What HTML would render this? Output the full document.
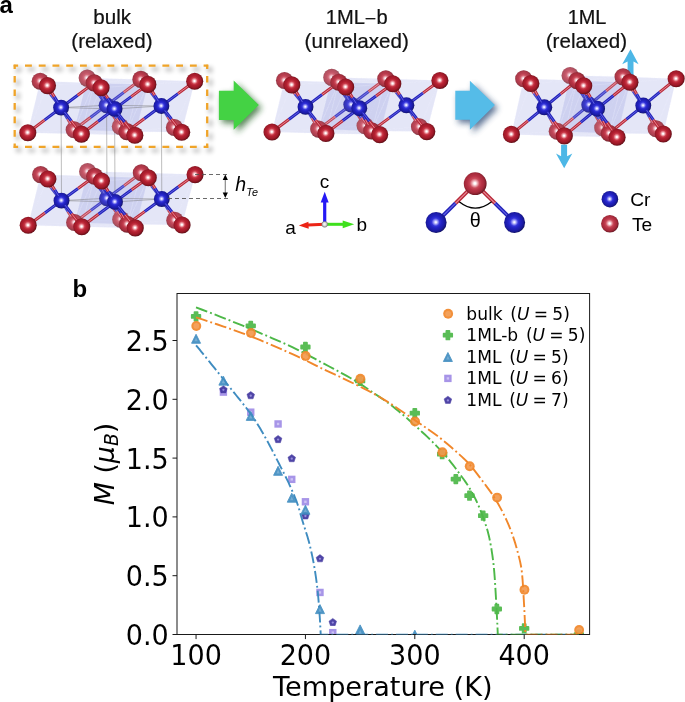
<!DOCTYPE html>
<html><head><meta charset="utf-8"><title>figure</title>
<style>html,body{margin:0;padding:0;background:#fff}svg{display:block}</style></head>
<body><svg width="685" height="702" viewBox="0 0 685 702">
<rect width="685" height="702" fill="#fff"/>
<defs>
<radialGradient id="gTe" cx="0.46" cy="0.46" r="0.56" fx="0.49" fy="0.49">
<stop offset="0" stop-color="#fff"/><stop offset="0.06" stop-color="#fff"/><stop offset="0.18" stop-color="#f0a6ad"/><stop offset="0.34" stop-color="#c93a49"/><stop offset="0.5" stop-color="#b42031"/><stop offset="0.72" stop-color="#a01a29"/><stop offset="0.87" stop-color="#7e131e"/><stop offset="1" stop-color="#520a12"/>
</radialGradient>
<radialGradient id="gCr" cx="0.46" cy="0.46" r="0.56" fx="0.49" fy="0.49">
<stop offset="0" stop-color="#fbfbff"/><stop offset="0.06" stop-color="#ececff"/><stop offset="0.18" stop-color="#9a9af6"/><stop offset="0.34" stop-color="#3434da"/><stop offset="0.5" stop-color="#2323c4"/><stop offset="0.72" stop-color="#1c1caa"/><stop offset="0.87" stop-color="#17178a"/><stop offset="1" stop-color="#0d0d52"/>
</radialGradient>
<radialGradient id="gTeL" cx="0.46" cy="0.46" r="0.56" fx="0.49" fy="0.49">
<stop offset="0" stop-color="#fff"/><stop offset="0.07" stop-color="#fff"/><stop offset="0.2" stop-color="#efb0b8"/><stop offset="0.38" stop-color="#c94a5a"/><stop offset="0.55" stop-color="#b83346"/><stop offset="0.75" stop-color="#a62a3b"/><stop offset="0.88" stop-color="#86202e"/><stop offset="1" stop-color="#5c141e"/>
</radialGradient>
<radialGradient id="gO" cx="0.5" cy="0.5" r="0.5" fx="0.45" fy="0.45">
<stop offset="0" stop-color="#fff"/><stop offset="0.5" stop-color="#ddd"/><stop offset="1" stop-color="#777"/>
</radialGradient>
<filter id="blur3" x="-30%" y="-30%" width="160%" height="160%"><feGaussianBlur stdDeviation="2.6"/></filter>
<filter id="blur2" x="-40%" y="-40%" width="180%" height="180%"><feGaussianBlur stdDeviation="3.3"/></filter>
</defs>
<g fill="none" stroke="#000" stroke-width="2.6" opacity="0.42" transform="translate(3.2,3.4)" filter="url(#blur3)"><path d="M13.7,65.7H208.2M13.7,146.9H208.2" stroke-dasharray="6.87 6.87" stroke-dashoffset="2.44"/><path d="M14.7,64.7V147.9M207.2,64.7V147.9" stroke-dasharray="6.7 6.83" stroke-dashoffset="2.35"/></g>
<g stroke="#f4f4ff" stroke-opacity="0.26" stroke-width="0.5" stroke-linejoin="round" fill="#757cdc" fill-opacity="0.1">
<polygon points="40.6,174.6 47.9,178.9 94.6,176.3"/>
<polygon points="40.6,174.6 47.9,178.9 28.2,225.3"/>
<polygon points="40.6,174.6 74.6,222.5 94.6,176.3"/>
<polygon points="40.6,174.6 74.6,222.5 28.2,225.3"/>
<polygon points="81.8,226.7 47.9,178.9 94.6,176.3"/>
<polygon points="81.8,226.7 47.9,178.9 28.2,225.3"/>
<polygon points="81.8,226.7 74.6,222.5 94.6,176.3"/>
<polygon points="81.8,226.7 74.6,222.5 28.2,225.3"/>
<polygon points="87.6,171.5 94.6,176.3 141.3,172.8"/>
<polygon points="87.6,171.5 94.6,176.3 74.6,222.5"/>
<polygon points="87.6,171.5 120.7,219.2 141.3,172.8"/>
<polygon points="87.6,171.5 120.7,219.2 74.6,222.5"/>
<polygon points="127.3,224.2 94.6,176.3 141.3,172.8"/>
<polygon points="127.3,224.2 94.6,176.3 74.6,222.5"/>
<polygon points="127.3,224.2 120.7,219.2 141.3,172.8"/>
<polygon points="127.3,224.2 120.7,219.2 74.6,222.5"/>
<polygon points="94.6,176.3 101.5,181.0 148.3,177.7"/>
<polygon points="94.6,176.3 101.5,181.0 81.8,226.7"/>
<polygon points="94.6,176.3 127.3,224.2 148.3,177.7"/>
<polygon points="94.6,176.3 127.3,224.2 81.8,226.7"/>
<polygon points="135.3,227.9 101.5,181.0 148.3,177.7"/>
<polygon points="135.3,227.9 101.5,181.0 81.8,226.7"/>
<polygon points="135.3,227.9 127.3,224.2 148.3,177.7"/>
<polygon points="135.3,227.9 127.3,224.2 81.8,226.7"/>
<polygon points="141.3,172.8 148.3,177.7 195.1,174.6"/>
<polygon points="141.3,172.8 148.3,177.7 127.3,224.2"/>
<polygon points="141.3,172.8 174.8,220.2 195.1,174.6"/>
<polygon points="141.3,172.8 174.8,220.2 127.3,224.2"/>
<polygon points="182.1,224.9 148.3,177.7 195.1,174.6"/>
<polygon points="182.1,224.9 148.3,177.7 127.3,224.2"/>
<polygon points="182.1,224.9 174.8,220.2 195.1,174.6"/>
<polygon points="182.1,224.9 174.8,220.2 127.3,224.2"/>
</g>
<g stroke="#f4f4ff" stroke-opacity="0.26" stroke-width="0.5" stroke-linejoin="round" fill="#757cdc" fill-opacity="0.1">
<polygon points="40.2,81.2 47.5,85.6 94.2,82.9"/>
<polygon points="40.2,81.2 47.5,85.6 27.8,132.7"/>
<polygon points="40.2,81.2 74.2,129.8 94.2,82.9"/>
<polygon points="40.2,81.2 74.2,129.8 27.8,132.7"/>
<polygon points="81.4,134.1 47.5,85.6 94.2,82.9"/>
<polygon points="81.4,134.1 47.5,85.6 27.8,132.7"/>
<polygon points="81.4,134.1 74.2,129.8 94.2,82.9"/>
<polygon points="81.4,134.1 74.2,129.8 27.8,132.7"/>
<polygon points="87.2,78.1 94.2,82.9 140.9,79.4"/>
<polygon points="87.2,78.1 94.2,82.9 74.2,129.8"/>
<polygon points="87.2,78.1 120.3,126.5 140.9,79.4"/>
<polygon points="87.2,78.1 120.3,126.5 74.2,129.8"/>
<polygon points="126.9,131.6 94.2,82.9 140.9,79.4"/>
<polygon points="126.9,131.6 94.2,82.9 74.2,129.8"/>
<polygon points="126.9,131.6 120.3,126.5 140.9,79.4"/>
<polygon points="126.9,131.6 120.3,126.5 74.2,129.8"/>
<polygon points="94.2,82.9 101.1,87.7 147.9,84.4"/>
<polygon points="94.2,82.9 101.1,87.7 81.4,134.1"/>
<polygon points="94.2,82.9 126.9,131.6 147.9,84.4"/>
<polygon points="94.2,82.9 126.9,131.6 81.4,134.1"/>
<polygon points="134.9,135.3 101.1,87.7 147.9,84.4"/>
<polygon points="134.9,135.3 101.1,87.7 81.4,134.1"/>
<polygon points="134.9,135.3 126.9,131.6 147.9,84.4"/>
<polygon points="134.9,135.3 126.9,131.6 81.4,134.1"/>
<polygon points="140.9,79.4 147.9,84.4 194.7,81.2"/>
<polygon points="140.9,79.4 147.9,84.4 126.9,131.6"/>
<polygon points="140.9,79.4 174.4,127.5 194.7,81.2"/>
<polygon points="140.9,79.4 174.4,127.5 126.9,131.6"/>
<polygon points="181.7,132.3 147.9,84.4 194.7,81.2"/>
<polygon points="181.7,132.3 147.9,84.4 126.9,131.6"/>
<polygon points="181.7,132.3 174.4,127.5 194.7,81.2"/>
<polygon points="181.7,132.3 174.4,127.5 126.9,131.6"/>
</g>
<path d="M61.1,107.6L61.5,200.6 M106.6,105.3L107.0,198.3 M114.6,108.9L115.0,201.9 M161.4,106.0L161.8,199.0 M61.1,107.6 L106.6,105.3 L161.4,106.0 L114.6,108.9z M61.5,200.6 L107.0,198.3 L161.8,199.0 L115.0,201.9z" fill="none" stroke="#777" stroke-width="0.6" opacity="0.8"/>
<circle cx="87.64" cy="171.54" r="8.55" fill="url(#gTe)"/><circle cx="87.64" cy="171.54" r="8.75" fill="#e6e2f6" fill-opacity="0.28"/>
<circle cx="120.74" cy="219.22" r="8.55" fill="url(#gTe)"/><circle cx="120.74" cy="219.22" r="8.75" fill="#e6e2f6" fill-opacity="0.28"/>
<path d="M103.76,193.83L97.33,184.94" stroke="#2222b8" stroke-width="3.0"/><path d="M97.33,184.94L91.65,177.08" stroke="#b82838" stroke-width="3.0"/><path d="M103.76,193.83L97.33,184.94" stroke="#6464e6" stroke-width="0.90"/><path d="M97.33,184.94L91.65,177.08" stroke="#ea8e9a" stroke-width="0.90"/><path d="M103.76,193.83L91.65,177.08" stroke="#e4e2f8" stroke-opacity="0.18" stroke-width="3.3"/>
<path d="M111.49,195.01L124.17,185.58" stroke="#2222b8" stroke-width="3.0"/><path d="M124.17,185.58L141.32,172.82" stroke="#b82838" stroke-width="3.0"/><path d="M111.49,195.01L124.17,185.58" stroke="#6464e6" stroke-width="0.90"/><path d="M124.17,185.58L141.32,172.82" stroke="#ea8e9a" stroke-width="0.90"/><path d="M111.49,195.01L141.32,172.82" stroke="#e4e2f8" stroke-opacity="0.18" stroke-width="3.3"/>
<path d="M110.08,202.99L113.88,208.78" stroke="#2222b8" stroke-width="3.0"/><path d="M113.88,208.78L116.99,213.50" stroke="#b82838" stroke-width="3.0"/><path d="M110.08,202.99L113.88,208.78" stroke="#6464e6" stroke-width="0.90"/><path d="M113.88,208.78L116.99,213.50" stroke="#ea8e9a" stroke-width="0.90"/><path d="M110.08,202.99L116.99,213.50" stroke="#e4e2f8" stroke-opacity="0.18" stroke-width="3.3"/>
<path d="M102.56,201.66L90.82,210.40" stroke="#2222b8" stroke-width="3.0"/><path d="M90.82,210.40L74.62,222.47" stroke="#b82838" stroke-width="3.0"/><path d="M102.56,201.66L90.82,210.40" stroke="#6464e6" stroke-width="0.90"/><path d="M90.82,210.40L74.62,222.47" stroke="#ea8e9a" stroke-width="0.90"/><path d="M102.56,201.66L74.62,222.47" stroke="#e4e2f8" stroke-opacity="0.18" stroke-width="3.3"/>
<circle cx="107.02" cy="198.33" r="7.95" fill="url(#gCr)"/><circle cx="107.02" cy="198.33" r="8.15" fill="#dcdcf8" fill-opacity="0.12"/>
<circle cx="40.62" cy="174.60" r="8.55" fill="url(#gTe)"/><circle cx="40.62" cy="174.60" r="8.75" fill="#e6e2f6" fill-opacity="0.17"/>
<circle cx="141.32" cy="172.82" r="8.55" fill="url(#gTe)"/><circle cx="141.32" cy="172.82" r="8.75" fill="#e6e2f6" fill-opacity="0.14"/>
<circle cx="74.62" cy="222.47" r="8.55" fill="url(#gTe)"/><circle cx="74.62" cy="222.47" r="8.75" fill="#e6e2f6" fill-opacity="0.2"/>
<circle cx="174.81" cy="220.20" r="8.55" fill="url(#gTe)"/><circle cx="174.81" cy="220.20" r="8.75" fill="#e6e2f6" fill-opacity="0.2"/>
<path d="M58.02,196.26L51.06,187.60" stroke="#2222b8" stroke-width="3.0"/><path d="M51.06,187.60L44.91,179.93" stroke="#b82838" stroke-width="3.0"/><path d="M58.02,196.26L51.06,187.60" stroke="#6464e6" stroke-width="0.90"/><path d="M51.06,187.60L44.91,179.93" stroke="#ea8e9a" stroke-width="0.90"/><path d="M58.02,196.26L44.91,179.93" stroke="#e4e2f8" stroke-opacity="0.18" stroke-width="3.3"/>
<path d="M65.98,197.30L78.05,188.44" stroke="#2222b8" stroke-width="3.0"/><path d="M78.05,188.44L94.60,176.27" stroke="#b82838" stroke-width="3.0"/><path d="M65.98,197.30L78.05,188.44" stroke="#6464e6" stroke-width="0.90"/><path d="M78.05,188.44L94.60,176.27" stroke="#ea8e9a" stroke-width="0.90"/>
<path d="M64.36,205.37L68.06,211.53" stroke="#2222b8" stroke-width="3.0"/><path d="M68.06,211.53L71.10,216.60" stroke="#b82838" stroke-width="3.0"/><path d="M64.36,205.37L68.06,211.53" stroke="#6464e6" stroke-width="0.90"/><path d="M68.06,211.53L71.10,216.60" stroke="#ea8e9a" stroke-width="0.90"/><path d="M64.36,205.37L71.10,216.60" stroke="#e4e2f8" stroke-opacity="0.18" stroke-width="3.3"/>
<path d="M57.03,203.92L44.85,212.96" stroke="#2222b8" stroke-width="3.0"/><path d="M44.85,212.96L28.20,225.32" stroke="#b82838" stroke-width="3.0"/><path d="M57.03,203.92L44.85,212.96" stroke="#6464e6" stroke-width="0.90"/><path d="M44.85,212.96L28.20,225.32" stroke="#ea8e9a" stroke-width="0.90"/>
<path d="M104.29,193.49L100.81,187.30" stroke="#2222b8" stroke-width="3.0"/><path d="M100.81,187.30L94.60,176.27" stroke="#b82838" stroke-width="3.0"/><path d="M104.29,193.49L100.81,187.30" stroke="#6464e6" stroke-width="0.90"/><path d="M100.81,187.30L94.60,176.27" stroke="#ea8e9a" stroke-width="0.90"/><path d="M104.29,193.49L94.60,176.27" stroke="#e4e2f8" stroke-opacity="0.18" stroke-width="3.3"/>
<path d="M110.45,202.72L117.16,211.29" stroke="#2222b8" stroke-width="3.0"/><path d="M117.16,211.29L127.30,224.24" stroke="#b82838" stroke-width="3.0"/><path d="M110.45,202.72L117.16,211.29" stroke="#6464e6" stroke-width="0.90"/><path d="M117.16,211.29L127.30,224.24" stroke="#ea8e9a" stroke-width="0.90"/><path d="M110.45,202.72L127.30,224.24" stroke="#e4e2f8" stroke-opacity="0.18" stroke-width="3.3"/>
<path d="M158.37,194.64L151.56,185.92" stroke="#2222b8" stroke-width="3.0"/><path d="M151.56,185.92L145.53,178.21" stroke="#b82838" stroke-width="3.0"/><path d="M158.37,194.64L151.56,185.92" stroke="#6464e6" stroke-width="0.90"/><path d="M151.56,185.92L145.53,178.21" stroke="#ea8e9a" stroke-width="0.90"/><path d="M158.37,194.64L145.53,178.21" stroke="#e4e2f8" stroke-opacity="0.18" stroke-width="3.3"/>
<path d="M166.28,195.73L178.44,186.81" stroke="#2222b8" stroke-width="3.0"/><path d="M178.44,186.81L195.09,174.60" stroke="#b82838" stroke-width="3.0"/><path d="M166.28,195.73L178.44,186.81" stroke="#6464e6" stroke-width="0.90"/><path d="M178.44,186.81L195.09,174.60" stroke="#ea8e9a" stroke-width="0.90"/>
<path d="M164.71,203.76L168.30,209.61" stroke="#2222b8" stroke-width="3.0"/><path d="M168.30,209.61L171.23,214.37" stroke="#b82838" stroke-width="3.0"/><path d="M164.71,203.76L168.30,209.61" stroke="#6464e6" stroke-width="0.90"/><path d="M168.30,209.61L171.23,214.37" stroke="#ea8e9a" stroke-width="0.90"/><path d="M164.71,203.76L171.23,214.37" stroke="#e4e2f8" stroke-opacity="0.18" stroke-width="3.3"/>
<path d="M157.30,202.31L144.55,211.63" stroke="#2222b8" stroke-width="3.0"/><path d="M144.55,211.63L127.30,224.24" stroke="#b82838" stroke-width="3.0"/><path d="M157.30,202.31L144.55,211.63" stroke="#6464e6" stroke-width="0.90"/><path d="M144.55,211.63L127.30,224.24" stroke="#ea8e9a" stroke-width="0.90"/>
<circle cx="61.50" cy="200.60" r="7.95" fill="url(#gCr)"/>
<circle cx="161.79" cy="199.02" r="7.95" fill="url(#gCr)"/>
<circle cx="94.60" cy="176.27" r="8.55" fill="url(#gTe)"/><circle cx="94.60" cy="176.27" r="8.75" fill="#e6e2f6" fill-opacity="0.1"/>
<circle cx="195.09" cy="174.60" r="8.55" fill="url(#gTe)"/>
<circle cx="28.20" cy="225.32" r="8.55" fill="url(#gTe)"/>
<circle cx="127.30" cy="224.24" r="8.55" fill="url(#gTe)"/><circle cx="127.30" cy="224.24" r="8.75" fill="#e6e2f6" fill-opacity="0.1"/>
<path d="M58.54,195.89L54.69,189.76" stroke="#2222b8" stroke-width="3.0"/><path d="M54.69,189.76L47.88,178.93" stroke="#b82838" stroke-width="3.0"/><path d="M58.54,195.89L54.69,189.76" stroke="#6464e6" stroke-width="0.90"/><path d="M54.69,189.76L47.88,178.93" stroke="#ea8e9a" stroke-width="0.90"/>
<path d="M64.91,204.99L71.64,213.65" stroke="#2222b8" stroke-width="3.0"/><path d="M71.64,213.65L81.78,226.70" stroke="#b82838" stroke-width="3.0"/><path d="M64.91,204.99L71.64,213.65" stroke="#6464e6" stroke-width="0.90"/><path d="M71.64,213.65L81.78,226.70" stroke="#ea8e9a" stroke-width="0.90"/>
<path d="M111.51,197.53L104.79,189.08" stroke="#2222b8" stroke-width="3.0"/><path d="M104.79,189.08L98.86,181.62" stroke="#b82838" stroke-width="3.0"/><path d="M111.51,197.53L104.79,189.08" stroke="#6464e6" stroke-width="0.90"/><path d="M104.79,189.08L98.86,181.62" stroke="#ea8e9a" stroke-width="0.90"/>
<path d="M119.48,198.61L131.63,189.81" stroke="#2222b8" stroke-width="3.0"/><path d="M131.63,189.81L148.28,177.75" stroke="#b82838" stroke-width="3.0"/><path d="M119.48,198.61L131.63,189.81" stroke="#6464e6" stroke-width="0.90"/><path d="M131.63,189.81L148.28,177.75" stroke="#ea8e9a" stroke-width="0.90"/>
<path d="M117.66,206.75L121.14,213.06" stroke="#2222b8" stroke-width="3.0"/><path d="M121.14,213.06L124.00,218.25" stroke="#b82838" stroke-width="3.0"/><path d="M117.66,206.75L121.14,213.06" stroke="#6464e6" stroke-width="0.90"/><path d="M121.14,213.06L124.00,218.25" stroke="#ea8e9a" stroke-width="0.90"/>
<path d="M110.52,205.21L98.38,214.29" stroke="#2222b8" stroke-width="3.0"/><path d="M98.38,214.29L81.78,226.70" stroke="#b82838" stroke-width="3.0"/><path d="M110.52,205.21L98.38,214.29" stroke="#6464e6" stroke-width="0.90"/><path d="M98.38,214.29L81.78,226.70" stroke="#ea8e9a" stroke-width="0.90"/>
<path d="M158.81,194.33L155.03,188.39" stroke="#2222b8" stroke-width="3.0"/><path d="M155.03,188.39L148.28,177.75" stroke="#b82838" stroke-width="3.0"/><path d="M158.81,194.33L155.03,188.39" stroke="#6464e6" stroke-width="0.90"/><path d="M155.03,188.39L148.28,177.75" stroke="#ea8e9a" stroke-width="0.90"/>
<path d="M165.22,203.41L171.93,211.98" stroke="#2222b8" stroke-width="3.0"/><path d="M171.93,211.98L182.07,224.93" stroke="#b82838" stroke-width="3.0"/><path d="M165.22,203.41L171.93,211.98" stroke="#6464e6" stroke-width="0.90"/><path d="M171.93,211.98L182.07,224.93" stroke="#ea8e9a" stroke-width="0.90"/>
<circle cx="114.98" cy="201.88" r="7.95" fill="url(#gCr)"/>
<circle cx="47.88" cy="178.93" r="8.55" fill="url(#gTe)"/>
<circle cx="148.28" cy="177.75" r="8.55" fill="url(#gTe)"/>
<circle cx="81.78" cy="226.70" r="8.55" fill="url(#gTe)"/>
<circle cx="182.07" cy="224.93" r="8.55" fill="url(#gTe)"/>
<path d="M111.95,197.21L108.22,191.44" stroke="#2222b8" stroke-width="3.0"/><path d="M108.22,191.44L101.46,181.00" stroke="#b82838" stroke-width="3.0"/><path d="M111.95,197.21L108.22,191.44" stroke="#6464e6" stroke-width="0.90"/><path d="M108.22,191.44L101.46,181.00" stroke="#ea8e9a" stroke-width="0.90"/>
<path d="M118.40,206.27L125.12,214.88" stroke="#2222b8" stroke-width="3.0"/><path d="M125.12,214.88L135.25,227.88" stroke="#b82838" stroke-width="3.0"/><path d="M118.40,206.27L125.12,214.88" stroke="#6464e6" stroke-width="0.90"/><path d="M125.12,214.88L135.25,227.88" stroke="#ea8e9a" stroke-width="0.90"/>
<circle cx="101.46" cy="181.00" r="8.55" fill="url(#gTe)"/>
<circle cx="135.25" cy="227.88" r="8.55" fill="url(#gTe)"/>
<circle cx="87.24" cy="78.10" r="8.55" fill="url(#gTe)"/><circle cx="87.24" cy="78.10" r="8.75" fill="#e6e2f6" fill-opacity="0.28"/>
<circle cx="120.34" cy="126.50" r="8.55" fill="url(#gTe)"/><circle cx="120.34" cy="126.50" r="8.75" fill="#e6e2f6" fill-opacity="0.28"/>
<path d="M103.39,100.77L96.93,91.70" stroke="#2222b8" stroke-width="3.0"/><path d="M96.93,91.70L91.21,83.67" stroke="#b82838" stroke-width="3.0"/><path d="M103.39,100.77L96.93,91.70" stroke="#6464e6" stroke-width="0.90"/><path d="M96.93,91.70L91.21,83.67" stroke="#ea8e9a" stroke-width="0.90"/><path d="M103.39,100.77L91.21,83.67" stroke="#e4e2f8" stroke-opacity="0.18" stroke-width="3.3"/>
<path d="M111.06,101.95L123.77,92.35" stroke="#2222b8" stroke-width="3.0"/><path d="M123.77,92.35L140.92,79.40" stroke="#b82838" stroke-width="3.0"/><path d="M111.06,101.95L123.77,92.35" stroke="#6464e6" stroke-width="0.90"/><path d="M123.77,92.35L140.92,79.40" stroke="#ea8e9a" stroke-width="0.90"/><path d="M111.06,101.95L140.92,79.40" stroke="#e4e2f8" stroke-opacity="0.18" stroke-width="3.3"/>
<path d="M109.65,109.97L113.48,115.90" stroke="#2222b8" stroke-width="3.0"/><path d="M113.48,115.90L116.63,120.76" stroke="#b82838" stroke-width="3.0"/><path d="M109.65,109.97L113.48,115.90" stroke="#6464e6" stroke-width="0.90"/><path d="M113.48,115.90L116.63,120.76" stroke="#ea8e9a" stroke-width="0.90"/><path d="M109.65,109.97L116.63,120.76" stroke="#e4e2f8" stroke-opacity="0.18" stroke-width="3.3"/>
<path d="M102.19,108.66L90.42,117.55" stroke="#2222b8" stroke-width="3.0"/><path d="M90.42,117.55L74.22,129.80" stroke="#b82838" stroke-width="3.0"/><path d="M102.19,108.66L90.42,117.55" stroke="#6464e6" stroke-width="0.90"/><path d="M90.42,117.55L74.22,129.80" stroke="#ea8e9a" stroke-width="0.90"/><path d="M102.19,108.66L74.22,129.80" stroke="#e4e2f8" stroke-opacity="0.18" stroke-width="3.3"/>
<circle cx="106.62" cy="105.30" r="7.95" fill="url(#gCr)"/><circle cx="106.62" cy="105.30" r="8.15" fill="#dcdcf8" fill-opacity="0.12"/>
<circle cx="40.23" cy="81.20" r="8.55" fill="url(#gTe)"/><circle cx="40.23" cy="81.20" r="8.75" fill="#e6e2f6" fill-opacity="0.17"/>
<circle cx="140.92" cy="79.40" r="8.55" fill="url(#gTe)"/><circle cx="140.92" cy="79.40" r="8.75" fill="#e6e2f6" fill-opacity="0.14"/>
<circle cx="74.22" cy="129.80" r="8.55" fill="url(#gTe)"/><circle cx="74.22" cy="129.80" r="8.75" fill="#e6e2f6" fill-opacity="0.2"/>
<circle cx="174.42" cy="127.50" r="8.55" fill="url(#gTe)"/><circle cx="174.42" cy="127.50" r="8.75" fill="#e6e2f6" fill-opacity="0.2"/>
<path d="M57.65,103.23L50.66,94.40" stroke="#2222b8" stroke-width="3.0"/><path d="M50.66,94.40L44.47,86.57" stroke="#b82838" stroke-width="3.0"/><path d="M57.65,103.23L50.66,94.40" stroke="#6464e6" stroke-width="0.90"/><path d="M50.66,94.40L44.47,86.57" stroke="#ea8e9a" stroke-width="0.90"/><path d="M57.65,103.23L44.47,86.57" stroke="#e4e2f8" stroke-opacity="0.18" stroke-width="3.3"/>
<path d="M65.56,104.27L77.65,95.25" stroke="#2222b8" stroke-width="3.0"/><path d="M77.65,95.25L94.20,82.90" stroke="#b82838" stroke-width="3.0"/><path d="M65.56,104.27L77.65,95.25" stroke="#6464e6" stroke-width="0.90"/><path d="M77.65,95.25L94.20,82.90" stroke="#ea8e9a" stroke-width="0.90"/>
<path d="M63.93,112.39L67.66,118.70" stroke="#2222b8" stroke-width="3.0"/><path d="M67.66,118.70L70.74,123.91" stroke="#b82838" stroke-width="3.0"/><path d="M63.93,112.39L67.66,118.70" stroke="#6464e6" stroke-width="0.90"/><path d="M67.66,118.70L70.74,123.91" stroke="#ea8e9a" stroke-width="0.90"/><path d="M63.93,112.39L70.74,123.91" stroke="#e4e2f8" stroke-opacity="0.18" stroke-width="3.3"/>
<path d="M56.66,110.95L44.45,120.15" stroke="#2222b8" stroke-width="3.0"/><path d="M44.45,120.15L27.80,132.70" stroke="#b82838" stroke-width="3.0"/><path d="M56.66,110.95L44.45,120.15" stroke="#6464e6" stroke-width="0.90"/><path d="M44.45,120.15L27.80,132.70" stroke="#ea8e9a" stroke-width="0.90"/>
<path d="M103.92,100.43L100.41,94.10" stroke="#2222b8" stroke-width="3.0"/><path d="M100.41,94.10L94.20,82.90" stroke="#b82838" stroke-width="3.0"/><path d="M103.92,100.43L100.41,94.10" stroke="#6464e6" stroke-width="0.90"/><path d="M100.41,94.10L94.20,82.90" stroke="#ea8e9a" stroke-width="0.90"/><path d="M103.92,100.43L94.20,82.90" stroke="#e4e2f8" stroke-opacity="0.18" stroke-width="3.3"/>
<path d="M110.02,109.71L116.76,118.45" stroke="#2222b8" stroke-width="3.0"/><path d="M116.76,118.45L126.90,131.60" stroke="#b82838" stroke-width="3.0"/><path d="M110.02,109.71L116.76,118.45" stroke="#6464e6" stroke-width="0.90"/><path d="M116.76,118.45L126.90,131.60" stroke="#ea8e9a" stroke-width="0.90"/><path d="M110.02,109.71L126.90,131.60" stroke="#e4e2f8" stroke-opacity="0.18" stroke-width="3.3"/>
<path d="M158.00,101.59L151.16,92.70" stroke="#2222b8" stroke-width="3.0"/><path d="M151.16,92.70L145.09,84.82" stroke="#b82838" stroke-width="3.0"/><path d="M158.00,101.59L151.16,92.70" stroke="#6464e6" stroke-width="0.90"/><path d="M151.16,92.70L145.09,84.82" stroke="#ea8e9a" stroke-width="0.90"/><path d="M158.00,101.59L145.09,84.82" stroke="#e4e2f8" stroke-opacity="0.18" stroke-width="3.3"/>
<path d="M165.86,102.68L178.04,93.60" stroke="#2222b8" stroke-width="3.0"/><path d="M178.04,93.60L194.69,81.20" stroke="#b82838" stroke-width="3.0"/><path d="M165.86,102.68L178.04,93.60" stroke="#6464e6" stroke-width="0.90"/><path d="M178.04,93.60L194.69,81.20" stroke="#ea8e9a" stroke-width="0.90"/>
<path d="M164.28,110.76L167.90,116.75" stroke="#2222b8" stroke-width="3.0"/><path d="M167.90,116.75L170.87,121.65" stroke="#b82838" stroke-width="3.0"/><path d="M164.28,110.76L167.90,116.75" stroke="#6464e6" stroke-width="0.90"/><path d="M167.90,116.75L170.87,121.65" stroke="#ea8e9a" stroke-width="0.90"/><path d="M164.28,110.76L170.87,121.65" stroke="#e4e2f8" stroke-opacity="0.18" stroke-width="3.3"/>
<path d="M156.92,109.32L144.15,118.80" stroke="#2222b8" stroke-width="3.0"/><path d="M144.15,118.80L126.90,131.60" stroke="#b82838" stroke-width="3.0"/><path d="M156.92,109.32L144.15,118.80" stroke="#6464e6" stroke-width="0.90"/><path d="M144.15,118.80L126.90,131.60" stroke="#ea8e9a" stroke-width="0.90"/>
<circle cx="61.10" cy="107.60" r="7.95" fill="url(#gCr)"/>
<circle cx="161.39" cy="106.00" r="7.95" fill="url(#gCr)"/>
<circle cx="94.20" cy="82.90" r="8.55" fill="url(#gTe)"/><circle cx="94.20" cy="82.90" r="8.75" fill="#e6e2f6" fill-opacity="0.1"/>
<circle cx="194.69" cy="81.20" r="8.55" fill="url(#gTe)"/>
<circle cx="27.80" cy="132.70" r="8.55" fill="url(#gTe)"/>
<circle cx="126.90" cy="131.60" r="8.55" fill="url(#gTe)"/><circle cx="126.90" cy="131.60" r="8.75" fill="#e6e2f6" fill-opacity="0.1"/>
<path d="M58.17,102.87L54.29,96.60" stroke="#2222b8" stroke-width="3.0"/><path d="M54.29,96.60L47.48,85.60" stroke="#b82838" stroke-width="3.0"/><path d="M58.17,102.87L54.29,96.60" stroke="#6464e6" stroke-width="0.90"/><path d="M54.29,96.60L47.48,85.60" stroke="#ea8e9a" stroke-width="0.90"/>
<path d="M64.48,112.02L71.24,120.85" stroke="#2222b8" stroke-width="3.0"/><path d="M71.24,120.85L81.38,134.10" stroke="#b82838" stroke-width="3.0"/><path d="M64.48,112.02L71.24,120.85" stroke="#6464e6" stroke-width="0.90"/><path d="M71.24,120.85L81.38,134.10" stroke="#ea8e9a" stroke-width="0.90"/>
<path d="M111.14,104.52L104.39,95.90" stroke="#2222b8" stroke-width="3.0"/><path d="M104.39,95.90L98.42,88.28" stroke="#b82838" stroke-width="3.0"/><path d="M111.14,104.52L104.39,95.90" stroke="#6464e6" stroke-width="0.90"/><path d="M104.39,95.90L98.42,88.28" stroke="#ea8e9a" stroke-width="0.90"/>
<path d="M119.06,105.60L131.23,96.65" stroke="#2222b8" stroke-width="3.0"/><path d="M131.23,96.65L147.88,84.40" stroke="#b82838" stroke-width="3.0"/><path d="M119.06,105.60L131.23,96.65" stroke="#6464e6" stroke-width="0.90"/><path d="M131.23,96.65L147.88,84.40" stroke="#ea8e9a" stroke-width="0.90"/>
<path d="M117.23,113.79L120.74,120.25" stroke="#2222b8" stroke-width="3.0"/><path d="M120.74,120.25L123.64,125.59" stroke="#b82838" stroke-width="3.0"/><path d="M117.23,113.79L120.74,120.25" stroke="#6464e6" stroke-width="0.90"/><path d="M120.74,120.25L123.64,125.59" stroke="#ea8e9a" stroke-width="0.90"/>
<path d="M110.14,112.26L97.98,121.50" stroke="#2222b8" stroke-width="3.0"/><path d="M97.98,121.50L81.38,134.10" stroke="#b82838" stroke-width="3.0"/><path d="M110.14,112.26L97.98,121.50" stroke="#6464e6" stroke-width="0.90"/><path d="M97.98,121.50L81.38,134.10" stroke="#ea8e9a" stroke-width="0.90"/>
<path d="M158.44,101.28L154.63,95.20" stroke="#2222b8" stroke-width="3.0"/><path d="M154.63,95.20L147.88,84.40" stroke="#b82838" stroke-width="3.0"/><path d="M158.44,101.28L154.63,95.20" stroke="#6464e6" stroke-width="0.90"/><path d="M154.63,95.20L147.88,84.40" stroke="#ea8e9a" stroke-width="0.90"/>
<path d="M164.79,110.41L171.53,119.15" stroke="#2222b8" stroke-width="3.0"/><path d="M171.53,119.15L181.67,132.30" stroke="#b82838" stroke-width="3.0"/><path d="M164.79,110.41L171.53,119.15" stroke="#6464e6" stroke-width="0.90"/><path d="M171.53,119.15L181.67,132.30" stroke="#ea8e9a" stroke-width="0.90"/>
<circle cx="114.58" cy="108.90" r="7.95" fill="url(#gCr)"/>
<circle cx="47.48" cy="85.60" r="8.55" fill="url(#gTe)"/>
<circle cx="147.88" cy="84.40" r="8.55" fill="url(#gTe)"/>
<circle cx="81.38" cy="134.10" r="8.55" fill="url(#gTe)"/>
<circle cx="181.67" cy="132.30" r="8.55" fill="url(#gTe)"/>
<path d="M111.58,104.21L107.82,98.30" stroke="#2222b8" stroke-width="3.0"/><path d="M107.82,98.30L101.06,87.70" stroke="#b82838" stroke-width="3.0"/><path d="M111.58,104.21L107.82,98.30" stroke="#6464e6" stroke-width="0.90"/><path d="M107.82,98.30L101.06,87.70" stroke="#ea8e9a" stroke-width="0.90"/>
<path d="M117.97,113.31L124.72,122.10" stroke="#2222b8" stroke-width="3.0"/><path d="M124.72,122.10L134.85,135.30" stroke="#b82838" stroke-width="3.0"/><path d="M117.97,113.31L124.72,122.10" stroke="#6464e6" stroke-width="0.90"/><path d="M124.72,122.10L134.85,135.30" stroke="#ea8e9a" stroke-width="0.90"/>
<circle cx="101.06" cy="87.70" r="8.55" fill="url(#gTe)"/>
<circle cx="134.85" cy="135.30" r="8.55" fill="url(#gTe)"/>
<g fill="none" stroke="#f0a428" stroke-width="2.3"><path d="M13.7,65.7H208.2M13.7,146.9H208.2" stroke-dasharray="6.87 6.87" stroke-dashoffset="2.44"/><path d="M14.7,64.7V147.9M207.2,64.7V147.9" stroke-dasharray="6.7 6.83" stroke-dashoffset="2.35"/></g>
<g stroke="#f4f4ff" stroke-opacity="0.26" stroke-width="0.5" stroke-linejoin="round" fill="#757cdc" fill-opacity="0.1">
<polygon points="284.5,80.5 291.8,84.9 338.8,82.2"/>
<polygon points="284.5,80.5 291.8,84.9 272.0,132.0"/>
<polygon points="284.5,80.5 318.7,129.1 338.8,82.2"/>
<polygon points="284.5,80.5 318.7,129.1 272.0,132.0"/>
<polygon points="325.9,133.4 291.8,84.9 338.8,82.2"/>
<polygon points="325.9,133.4 291.8,84.9 272.0,132.0"/>
<polygon points="325.9,133.4 318.7,129.1 338.8,82.2"/>
<polygon points="325.9,133.4 318.7,129.1 272.0,132.0"/>
<polygon points="331.8,77.4 338.8,82.2 385.8,78.7"/>
<polygon points="331.8,77.4 338.8,82.2 318.7,129.1"/>
<polygon points="331.8,77.4 365.1,125.8 385.8,78.7"/>
<polygon points="331.8,77.4 365.1,125.8 318.7,129.1"/>
<polygon points="371.7,130.9 338.8,82.2 385.8,78.7"/>
<polygon points="371.7,130.9 338.8,82.2 318.7,129.1"/>
<polygon points="371.7,130.9 365.1,125.8 385.8,78.7"/>
<polygon points="371.7,130.9 365.1,125.8 318.7,129.1"/>
<polygon points="338.8,82.2 345.7,87.0 392.8,83.7"/>
<polygon points="338.8,82.2 345.7,87.0 325.9,133.4"/>
<polygon points="338.8,82.2 371.7,130.9 392.8,83.7"/>
<polygon points="338.8,82.2 371.7,130.9 325.9,133.4"/>
<polygon points="379.7,134.6 345.7,87.0 392.8,83.7"/>
<polygon points="379.7,134.6 345.7,87.0 325.9,133.4"/>
<polygon points="379.7,134.6 371.7,130.9 392.8,83.7"/>
<polygon points="379.7,134.6 371.7,130.9 325.9,133.4"/>
<polygon points="385.8,78.7 392.8,83.7 439.9,80.5"/>
<polygon points="385.8,78.7 392.8,83.7 371.7,130.9"/>
<polygon points="385.8,78.7 419.5,126.8 439.9,80.5"/>
<polygon points="385.8,78.7 419.5,126.8 371.7,130.9"/>
<polygon points="426.8,131.6 392.8,83.7 439.9,80.5"/>
<polygon points="426.8,131.6 392.8,83.7 371.7,130.9"/>
<polygon points="426.8,131.6 419.5,126.8 439.9,80.5"/>
<polygon points="426.8,131.6 419.5,126.8 371.7,130.9"/>
</g>
<circle cx="331.80" cy="77.40" r="8.55" fill="url(#gTe)"/><circle cx="331.80" cy="77.40" r="8.75" fill="#e6e2f6" fill-opacity="0.28"/>
<circle cx="365.10" cy="125.80" r="8.55" fill="url(#gTe)"/><circle cx="365.10" cy="125.80" r="8.75" fill="#e6e2f6" fill-opacity="0.28"/>
<path d="M348.06,100.08L341.55,91.00" stroke="#2222b8" stroke-width="3.0"/><path d="M341.55,91.00L335.79,82.96" stroke="#b82838" stroke-width="3.0"/><path d="M348.06,100.08L341.55,91.00" stroke="#6464e6" stroke-width="0.90"/><path d="M341.55,91.00L335.79,82.96" stroke="#ea8e9a" stroke-width="0.90"/><path d="M348.06,100.08L335.79,82.96" stroke="#e4e2f8" stroke-opacity="0.18" stroke-width="3.3"/>
<path d="M355.75,101.26L368.55,91.65" stroke="#2222b8" stroke-width="3.0"/><path d="M368.55,91.65L385.80,78.70" stroke="#b82838" stroke-width="3.0"/><path d="M355.75,101.26L368.55,91.65" stroke="#6464e6" stroke-width="0.90"/><path d="M368.55,91.65L385.80,78.70" stroke="#ea8e9a" stroke-width="0.90"/><path d="M355.75,101.26L385.80,78.70" stroke="#e4e2f8" stroke-opacity="0.18" stroke-width="3.3"/>
<path d="M354.34,109.26L358.20,115.20" stroke="#2222b8" stroke-width="3.0"/><path d="M358.20,115.20L361.37,120.07" stroke="#b82838" stroke-width="3.0"/><path d="M354.34,109.26L358.20,115.20" stroke="#6464e6" stroke-width="0.90"/><path d="M358.20,115.20L361.37,120.07" stroke="#ea8e9a" stroke-width="0.90"/><path d="M354.34,109.26L361.37,120.07" stroke="#e4e2f8" stroke-opacity="0.18" stroke-width="3.3"/>
<path d="M346.85,107.94L335.00,116.85" stroke="#2222b8" stroke-width="3.0"/><path d="M335.00,116.85L318.70,129.10" stroke="#b82838" stroke-width="3.0"/><path d="M346.85,107.94L335.00,116.85" stroke="#6464e6" stroke-width="0.90"/><path d="M335.00,116.85L318.70,129.10" stroke="#ea8e9a" stroke-width="0.90"/><path d="M346.85,107.94L318.70,129.10" stroke="#e4e2f8" stroke-opacity="0.18" stroke-width="3.3"/>
<circle cx="351.30" cy="104.60" r="7.95" fill="url(#gCr)"/><circle cx="351.30" cy="104.60" r="8.15" fill="#dcdcf8" fill-opacity="0.12"/>
<circle cx="284.50" cy="80.50" r="8.55" fill="url(#gTe)"/><circle cx="284.50" cy="80.50" r="8.75" fill="#e6e2f6" fill-opacity="0.17"/>
<circle cx="385.80" cy="78.70" r="8.55" fill="url(#gTe)"/><circle cx="385.80" cy="78.70" r="8.75" fill="#e6e2f6" fill-opacity="0.14"/>
<circle cx="318.70" cy="129.10" r="8.55" fill="url(#gTe)"/><circle cx="318.70" cy="129.10" r="8.75" fill="#e6e2f6" fill-opacity="0.2"/>
<circle cx="419.50" cy="126.80" r="8.55" fill="url(#gTe)"/><circle cx="419.50" cy="126.80" r="8.75" fill="#e6e2f6" fill-opacity="0.2"/>
<path d="M302.04,102.54L295.00,93.70" stroke="#2222b8" stroke-width="3.0"/><path d="M295.00,93.70L288.76,85.85" stroke="#b82838" stroke-width="3.0"/><path d="M302.04,102.54L295.00,93.70" stroke="#6464e6" stroke-width="0.90"/><path d="M295.00,93.70L288.76,85.85" stroke="#ea8e9a" stroke-width="0.90"/><path d="M302.04,102.54L288.76,85.85" stroke="#e4e2f8" stroke-opacity="0.18" stroke-width="3.3"/>
<path d="M309.97,103.58L322.15,94.55" stroke="#2222b8" stroke-width="3.0"/><path d="M322.15,94.55L338.80,82.20" stroke="#b82838" stroke-width="3.0"/><path d="M309.97,103.58L322.15,94.55" stroke="#6464e6" stroke-width="0.90"/><path d="M322.15,94.55L338.80,82.20" stroke="#ea8e9a" stroke-width="0.90"/>
<path d="M308.34,111.68L312.10,118.00" stroke="#2222b8" stroke-width="3.0"/><path d="M312.10,118.00L315.20,123.22" stroke="#b82838" stroke-width="3.0"/><path d="M308.34,111.68L312.10,118.00" stroke="#6464e6" stroke-width="0.90"/><path d="M312.10,118.00L315.20,123.22" stroke="#ea8e9a" stroke-width="0.90"/><path d="M308.34,111.68L315.20,123.22" stroke="#e4e2f8" stroke-opacity="0.18" stroke-width="3.3"/>
<path d="M301.05,110.24L288.75,119.45" stroke="#2222b8" stroke-width="3.0"/><path d="M288.75,119.45L272.00,132.00" stroke="#b82838" stroke-width="3.0"/><path d="M301.05,110.24L288.75,119.45" stroke="#6464e6" stroke-width="0.90"/><path d="M288.75,119.45L272.00,132.00" stroke="#ea8e9a" stroke-width="0.90"/>
<path d="M348.59,99.74L345.05,93.40" stroke="#2222b8" stroke-width="3.0"/><path d="M345.05,93.40L338.80,82.20" stroke="#b82838" stroke-width="3.0"/><path d="M348.59,99.74L345.05,93.40" stroke="#6464e6" stroke-width="0.90"/><path d="M345.05,93.40L338.80,82.20" stroke="#ea8e9a" stroke-width="0.90"/><path d="M348.59,99.74L338.80,82.20" stroke="#e4e2f8" stroke-opacity="0.18" stroke-width="3.3"/>
<path d="M354.71,109.00L361.50,117.75" stroke="#2222b8" stroke-width="3.0"/><path d="M361.50,117.75L371.70,130.90" stroke="#b82838" stroke-width="3.0"/><path d="M354.71,109.00L361.50,117.75" stroke="#6464e6" stroke-width="0.90"/><path d="M361.50,117.75L371.70,130.90" stroke="#ea8e9a" stroke-width="0.90"/><path d="M354.71,109.00L371.70,130.90" stroke="#e4e2f8" stroke-opacity="0.18" stroke-width="3.3"/>
<path d="M402.99,100.90L396.10,92.00" stroke="#2222b8" stroke-width="3.0"/><path d="M396.10,92.00L389.99,84.11" stroke="#b82838" stroke-width="3.0"/><path d="M402.99,100.90L396.10,92.00" stroke="#6464e6" stroke-width="0.90"/><path d="M396.10,92.00L389.99,84.11" stroke="#ea8e9a" stroke-width="0.90"/><path d="M402.99,100.90L389.99,84.11" stroke="#e4e2f8" stroke-opacity="0.18" stroke-width="3.3"/>
<path d="M410.87,101.99L423.15,92.90" stroke="#2222b8" stroke-width="3.0"/><path d="M423.15,92.90L439.90,80.50" stroke="#b82838" stroke-width="3.0"/><path d="M410.87,101.99L423.15,92.90" stroke="#6464e6" stroke-width="0.90"/><path d="M423.15,92.90L439.90,80.50" stroke="#ea8e9a" stroke-width="0.90"/>
<path d="M409.30,110.05L412.95,116.05" stroke="#2222b8" stroke-width="3.0"/><path d="M412.95,116.05L415.94,120.96" stroke="#b82838" stroke-width="3.0"/><path d="M409.30,110.05L412.95,116.05" stroke="#6464e6" stroke-width="0.90"/><path d="M412.95,116.05L415.94,120.96" stroke="#ea8e9a" stroke-width="0.90"/><path d="M409.30,110.05L415.94,120.96" stroke="#e4e2f8" stroke-opacity="0.18" stroke-width="3.3"/>
<path d="M401.92,108.60L389.05,118.10" stroke="#2222b8" stroke-width="3.0"/><path d="M389.05,118.10L371.70,130.90" stroke="#b82838" stroke-width="3.0"/><path d="M401.92,108.60L389.05,118.10" stroke="#6464e6" stroke-width="0.90"/><path d="M389.05,118.10L371.70,130.90" stroke="#ea8e9a" stroke-width="0.90"/>
<circle cx="305.50" cy="106.90" r="7.95" fill="url(#gCr)"/>
<circle cx="406.40" cy="105.30" r="7.95" fill="url(#gCr)"/>
<circle cx="338.80" cy="82.20" r="8.55" fill="url(#gTe)"/><circle cx="338.80" cy="82.20" r="8.75" fill="#e6e2f6" fill-opacity="0.1"/>
<circle cx="439.90" cy="80.50" r="8.55" fill="url(#gTe)"/>
<circle cx="272.00" cy="132.00" r="8.55" fill="url(#gTe)"/>
<circle cx="371.70" cy="130.90" r="8.55" fill="url(#gTe)"/><circle cx="371.70" cy="130.90" r="8.75" fill="#e6e2f6" fill-opacity="0.1"/>
<path d="M302.56,102.18L298.65,95.90" stroke="#2222b8" stroke-width="3.0"/><path d="M298.65,95.90L291.80,84.90" stroke="#b82838" stroke-width="3.0"/><path d="M302.56,102.18L298.65,95.90" stroke="#6464e6" stroke-width="0.90"/><path d="M298.65,95.90L291.80,84.90" stroke="#ea8e9a" stroke-width="0.90"/>
<path d="M308.89,111.31L315.70,120.15" stroke="#2222b8" stroke-width="3.0"/><path d="M315.70,120.15L325.90,133.40" stroke="#b82838" stroke-width="3.0"/><path d="M308.89,111.31L315.70,120.15" stroke="#6464e6" stroke-width="0.90"/><path d="M315.70,120.15L325.90,133.40" stroke="#ea8e9a" stroke-width="0.90"/>
<path d="M355.85,103.83L349.05,95.20" stroke="#2222b8" stroke-width="3.0"/><path d="M349.05,95.20L343.04,87.57" stroke="#b82838" stroke-width="3.0"/><path d="M355.85,103.83L349.05,95.20" stroke="#6464e6" stroke-width="0.90"/><path d="M349.05,95.20L343.04,87.57" stroke="#ea8e9a" stroke-width="0.90"/>
<path d="M363.79,104.91L376.05,95.95" stroke="#2222b8" stroke-width="3.0"/><path d="M376.05,95.95L392.80,83.70" stroke="#b82838" stroke-width="3.0"/><path d="M363.79,104.91L376.05,95.95" stroke="#6464e6" stroke-width="0.90"/><path d="M376.05,95.95L392.80,83.70" stroke="#ea8e9a" stroke-width="0.90"/>
<path d="M361.97,113.08L365.50,119.55" stroke="#2222b8" stroke-width="3.0"/><path d="M365.50,119.55L368.42,124.90" stroke="#b82838" stroke-width="3.0"/><path d="M361.97,113.08L365.50,119.55" stroke="#6464e6" stroke-width="0.90"/><path d="M365.50,119.55L368.42,124.90" stroke="#ea8e9a" stroke-width="0.90"/>
<path d="M354.86,111.55L342.60,120.80" stroke="#2222b8" stroke-width="3.0"/><path d="M342.60,120.80L325.90,133.40" stroke="#b82838" stroke-width="3.0"/><path d="M354.86,111.55L342.60,120.80" stroke="#6464e6" stroke-width="0.90"/><path d="M342.60,120.80L325.90,133.40" stroke="#ea8e9a" stroke-width="0.90"/>
<path d="M403.43,100.59L399.60,94.50" stroke="#2222b8" stroke-width="3.0"/><path d="M399.60,94.50L392.80,83.70" stroke="#b82838" stroke-width="3.0"/><path d="M403.43,100.59L399.60,94.50" stroke="#6464e6" stroke-width="0.90"/><path d="M399.60,94.50L392.80,83.70" stroke="#ea8e9a" stroke-width="0.90"/>
<path d="M409.81,109.70L416.60,118.45" stroke="#2222b8" stroke-width="3.0"/><path d="M416.60,118.45L426.80,131.60" stroke="#b82838" stroke-width="3.0"/><path d="M409.81,109.70L416.60,118.45" stroke="#6464e6" stroke-width="0.90"/><path d="M416.60,118.45L426.80,131.60" stroke="#ea8e9a" stroke-width="0.90"/>
<circle cx="359.30" cy="108.20" r="7.95" fill="url(#gCr)"/>
<circle cx="291.80" cy="84.90" r="8.55" fill="url(#gTe)"/>
<circle cx="392.80" cy="83.70" r="8.55" fill="url(#gTe)"/>
<circle cx="325.90" cy="133.40" r="8.55" fill="url(#gTe)"/>
<circle cx="426.80" cy="131.60" r="8.55" fill="url(#gTe)"/>
<path d="M356.30,103.52L352.50,97.60" stroke="#2222b8" stroke-width="3.0"/><path d="M352.50,97.60L345.70,87.00" stroke="#b82838" stroke-width="3.0"/><path d="M356.30,103.52L352.50,97.60" stroke="#6464e6" stroke-width="0.90"/><path d="M352.50,97.60L345.70,87.00" stroke="#ea8e9a" stroke-width="0.90"/>
<path d="M362.70,112.60L369.50,121.40" stroke="#2222b8" stroke-width="3.0"/><path d="M369.50,121.40L379.70,134.60" stroke="#b82838" stroke-width="3.0"/><path d="M362.70,112.60L369.50,121.40" stroke="#6464e6" stroke-width="0.90"/><path d="M369.50,121.40L379.70,134.60" stroke="#ea8e9a" stroke-width="0.90"/>
<circle cx="345.70" cy="87.00" r="8.55" fill="url(#gTe)"/>
<circle cx="379.70" cy="134.60" r="8.55" fill="url(#gTe)"/>
<path d="M627.6,76V61.6L622.2,64.3L630.5,49.2L638.6,64.3L633.5,61.6V76z" fill="#4db7e6"/>
<g stroke="#f4f4ff" stroke-opacity="0.26" stroke-width="0.5" stroke-linejoin="round" fill="#757cdc" fill-opacity="0.1">
<polygon points="523.7,78.8 530.9,83.5 577.0,80.6"/>
<polygon points="523.7,78.8 530.9,83.5 511.4,134.4"/>
<polygon points="523.7,78.8 557.2,131.3 577.0,80.6"/>
<polygon points="523.7,78.8 557.2,131.3 511.4,134.4"/>
<polygon points="564.3,135.9 530.9,83.5 577.0,80.6"/>
<polygon points="564.3,135.9 530.9,83.5 511.4,134.4"/>
<polygon points="564.3,135.9 557.2,131.3 577.0,80.6"/>
<polygon points="564.3,135.9 557.2,131.3 511.4,134.4"/>
<polygon points="570.1,75.4 577.0,80.6 623.1,76.8"/>
<polygon points="570.1,75.4 577.0,80.6 557.2,131.3"/>
<polygon points="570.1,75.4 602.8,127.7 623.1,76.8"/>
<polygon points="570.1,75.4 602.8,127.7 557.2,131.3"/>
<polygon points="609.2,133.2 577.0,80.6 623.1,76.8"/>
<polygon points="609.2,133.2 577.0,80.6 557.2,131.3"/>
<polygon points="609.2,133.2 602.8,127.7 623.1,76.8"/>
<polygon points="609.2,133.2 602.8,127.7 557.2,131.3"/>
<polygon points="577.0,80.6 583.7,85.8 629.9,82.2"/>
<polygon points="577.0,80.6 583.7,85.8 564.3,135.9"/>
<polygon points="577.0,80.6 609.2,133.2 629.9,82.2"/>
<polygon points="577.0,80.6 609.2,133.2 564.3,135.9"/>
<polygon points="617.1,137.2 583.7,85.8 629.9,82.2"/>
<polygon points="617.1,137.2 583.7,85.8 564.3,135.9"/>
<polygon points="617.1,137.2 609.2,133.2 629.9,82.2"/>
<polygon points="617.1,137.2 609.2,133.2 564.3,135.9"/>
<polygon points="623.1,76.8 629.9,82.2 676.1,78.8"/>
<polygon points="623.1,76.8 629.9,82.2 609.2,133.2"/>
<polygon points="623.1,76.8 656.1,128.8 676.1,78.8"/>
<polygon points="623.1,76.8 656.1,128.8 609.2,133.2"/>
<polygon points="663.3,134.0 629.9,82.2 676.1,78.8"/>
<polygon points="663.3,134.0 629.9,82.2 609.2,133.2"/>
<polygon points="663.3,134.0 656.1,128.8 676.1,78.8"/>
<polygon points="663.3,134.0 656.1,128.8 609.2,133.2"/>
</g>
<circle cx="570.10" cy="75.44" r="8.55" fill="url(#gTe)"/><circle cx="570.10" cy="75.44" r="8.75" fill="#e6e2f6" fill-opacity="0.28"/>
<circle cx="602.77" cy="127.71" r="8.55" fill="url(#gTe)"/><circle cx="602.77" cy="127.71" r="8.75" fill="#e6e2f6" fill-opacity="0.28"/>
<path d="M586.19,100.15L579.67,90.13" stroke="#2222b8" stroke-width="3.0"/><path d="M579.67,90.13L573.83,81.17" stroke="#b82838" stroke-width="3.0"/><path d="M586.19,100.15L579.67,90.13" stroke="#6464e6" stroke-width="0.90"/><path d="M579.67,90.13L573.83,81.17" stroke="#ea8e9a" stroke-width="0.90"/><path d="M586.19,100.15L573.83,81.17" stroke="#e4e2f8" stroke-opacity="0.18" stroke-width="3.3"/>
<path d="M593.52,101.27L606.15,90.83" stroke="#2222b8" stroke-width="3.0"/><path d="M606.15,90.83L623.07,76.84" stroke="#b82838" stroke-width="3.0"/><path d="M593.52,101.27L606.15,90.83" stroke="#6464e6" stroke-width="0.90"/><path d="M606.15,90.83L623.07,76.84" stroke="#ea8e9a" stroke-width="0.90"/><path d="M593.52,101.27L623.07,76.84" stroke="#e4e2f8" stroke-opacity="0.18" stroke-width="3.3"/>
<path d="M592.06,109.61L596.00,116.26" stroke="#2222b8" stroke-width="3.0"/><path d="M596.00,116.26L599.29,121.82" stroke="#b82838" stroke-width="3.0"/><path d="M592.06,109.61L596.00,116.26" stroke="#6464e6" stroke-width="0.90"/><path d="M596.00,116.26L599.29,121.82" stroke="#ea8e9a" stroke-width="0.90"/><path d="M592.06,109.61L599.29,121.82" stroke="#e4e2f8" stroke-opacity="0.18" stroke-width="3.3"/>
<path d="M584.94,108.36L573.24,118.05" stroke="#2222b8" stroke-width="3.0"/><path d="M573.24,118.05L557.25,131.28" stroke="#b82838" stroke-width="3.0"/><path d="M584.94,108.36L573.24,118.05" stroke="#6464e6" stroke-width="0.90"/><path d="M573.24,118.05L557.25,131.28" stroke="#ea8e9a" stroke-width="0.90"/><path d="M584.94,108.36L557.25,131.28" stroke="#e4e2f8" stroke-opacity="0.18" stroke-width="3.3"/>
<circle cx="589.23" cy="104.82" r="7.95" fill="url(#gCr)"/><circle cx="589.23" cy="104.82" r="8.15" fill="#dcdcf8" fill-opacity="0.12"/>
<circle cx="523.70" cy="78.79" r="8.55" fill="url(#gTe)"/><circle cx="523.70" cy="78.79" r="8.75" fill="#e6e2f6" fill-opacity="0.17"/>
<circle cx="623.07" cy="76.84" r="8.55" fill="url(#gTe)"/><circle cx="623.07" cy="76.84" r="8.75" fill="#e6e2f6" fill-opacity="0.14"/>
<circle cx="557.25" cy="131.28" r="8.55" fill="url(#gTe)"/><circle cx="557.25" cy="131.28" r="8.75" fill="#e6e2f6" fill-opacity="0.2"/>
<circle cx="656.13" cy="128.79" r="8.55" fill="url(#gTe)"/><circle cx="656.13" cy="128.79" r="8.75" fill="#e6e2f6" fill-opacity="0.2"/>
<path d="M541.04,102.79L534.00,93.04" stroke="#2222b8" stroke-width="3.0"/><path d="M534.00,93.04L527.70,84.33" stroke="#b82838" stroke-width="3.0"/><path d="M541.04,102.79L534.00,93.04" stroke="#6464e6" stroke-width="0.90"/><path d="M534.00,93.04L527.70,84.33" stroke="#ea8e9a" stroke-width="0.90"/><path d="M541.04,102.79L527.70,84.33" stroke="#e4e2f8" stroke-opacity="0.18" stroke-width="3.3"/>
<path d="M548.61,103.78L560.63,93.96" stroke="#2222b8" stroke-width="3.0"/><path d="M560.63,93.96L576.97,80.62" stroke="#b82838" stroke-width="3.0"/><path d="M548.61,103.78L560.63,93.96" stroke="#6464e6" stroke-width="0.90"/><path d="M560.63,93.96L576.97,80.62" stroke="#ea8e9a" stroke-width="0.90"/>
<path d="M546.94,112.20L550.77,119.29" stroke="#2222b8" stroke-width="3.0"/><path d="M550.77,119.29L554.00,125.26" stroke="#b82838" stroke-width="3.0"/><path d="M546.94,112.20L550.77,119.29" stroke="#6464e6" stroke-width="0.90"/><path d="M550.77,119.29L554.00,125.26" stroke="#ea8e9a" stroke-width="0.90"/><path d="M546.94,112.20L554.00,125.26" stroke="#e4e2f8" stroke-opacity="0.18" stroke-width="3.3"/>
<path d="M540.01,110.84L527.87,120.85" stroke="#2222b8" stroke-width="3.0"/><path d="M527.87,120.85L511.44,134.41" stroke="#b82838" stroke-width="3.0"/><path d="M540.01,110.84L527.87,120.85" stroke="#6464e6" stroke-width="0.90"/><path d="M527.87,120.85L511.44,134.41" stroke="#ea8e9a" stroke-width="0.90"/>
<path d="M586.71,99.85L583.10,92.72" stroke="#2222b8" stroke-width="3.0"/><path d="M583.10,92.72L576.97,80.62" stroke="#b82838" stroke-width="3.0"/><path d="M586.71,99.85L583.10,92.72" stroke="#6464e6" stroke-width="0.90"/><path d="M583.10,92.72L576.97,80.62" stroke="#ea8e9a" stroke-width="0.90"/><path d="M586.71,99.85L576.97,80.62" stroke="#e4e2f8" stroke-opacity="0.18" stroke-width="3.3"/>
<path d="M592.44,109.37L599.24,119.02" stroke="#2222b8" stroke-width="3.0"/><path d="M599.24,119.02L609.24,133.22" stroke="#b82838" stroke-width="3.0"/><path d="M592.44,109.37L599.24,119.02" stroke="#6464e6" stroke-width="0.90"/><path d="M599.24,119.02L609.24,133.22" stroke="#ea8e9a" stroke-width="0.90"/><path d="M592.44,109.37L609.24,133.22" stroke="#e4e2f8" stroke-opacity="0.18" stroke-width="3.3"/>
<path d="M640.08,101.02L633.18,91.21" stroke="#2222b8" stroke-width="3.0"/><path d="M633.18,91.21L627.01,82.44" stroke="#b82838" stroke-width="3.0"/><path d="M640.08,101.02L633.18,91.21" stroke="#6464e6" stroke-width="0.90"/><path d="M633.18,91.21L627.01,82.44" stroke="#ea8e9a" stroke-width="0.90"/><path d="M640.08,101.02L627.01,82.44" stroke="#e4e2f8" stroke-opacity="0.18" stroke-width="3.3"/>
<path d="M647.60,102.06L659.71,92.18" stroke="#2222b8" stroke-width="3.0"/><path d="M659.71,92.18L676.15,78.79" stroke="#b82838" stroke-width="3.0"/><path d="M647.60,102.06L659.71,92.18" stroke="#6464e6" stroke-width="0.90"/><path d="M659.71,92.18L676.15,78.79" stroke="#ea8e9a" stroke-width="0.90"/>
<path d="M645.98,110.44L649.71,117.18" stroke="#2222b8" stroke-width="3.0"/><path d="M649.71,117.18L652.82,122.81" stroke="#b82838" stroke-width="3.0"/><path d="M645.98,110.44L649.71,117.18" stroke="#6464e6" stroke-width="0.90"/><path d="M649.71,117.18L652.82,122.81" stroke="#ea8e9a" stroke-width="0.90"/><path d="M645.98,110.44L652.82,122.81" stroke="#e4e2f8" stroke-opacity="0.18" stroke-width="3.3"/>
<path d="M638.96,109.08L626.26,119.40" stroke="#2222b8" stroke-width="3.0"/><path d="M626.26,119.40L609.24,133.22" stroke="#b82838" stroke-width="3.0"/><path d="M638.96,109.08L626.26,119.40" stroke="#6464e6" stroke-width="0.90"/><path d="M626.26,119.40L609.24,133.22" stroke="#ea8e9a" stroke-width="0.90"/>
<circle cx="544.30" cy="107.30" r="7.95" fill="url(#gCr)"/>
<circle cx="643.28" cy="105.57" r="7.95" fill="url(#gCr)"/>
<circle cx="576.97" cy="80.62" r="8.55" fill="url(#gTe)"/><circle cx="576.97" cy="80.62" r="8.75" fill="#e6e2f6" fill-opacity="0.1"/>
<circle cx="676.15" cy="78.79" r="8.55" fill="url(#gTe)"/>
<circle cx="511.44" cy="134.41" r="8.55" fill="url(#gTe)"/>
<circle cx="609.24" cy="133.22" r="8.55" fill="url(#gTe)"/><circle cx="609.24" cy="133.22" r="8.75" fill="#e6e2f6" fill-opacity="0.1"/>
<path d="M541.56,102.46L537.58,95.42" stroke="#2222b8" stroke-width="3.0"/><path d="M537.58,95.42L530.86,83.54" stroke="#b82838" stroke-width="3.0"/><path d="M541.56,102.46L537.58,95.42" stroke="#6464e6" stroke-width="0.90"/><path d="M537.58,95.42L530.86,83.54" stroke="#ea8e9a" stroke-width="0.90"/>
<path d="M547.49,111.86L554.31,121.61" stroke="#2222b8" stroke-width="3.0"/><path d="M554.31,121.61L564.31,135.92" stroke="#b82838" stroke-width="3.0"/><path d="M547.49,111.86L554.31,121.61" stroke="#6464e6" stroke-width="0.90"/><path d="M554.31,121.61L564.31,135.92" stroke="#ea8e9a" stroke-width="0.90"/>
<path d="M593.84,104.18L587.02,94.66" stroke="#2222b8" stroke-width="3.0"/><path d="M587.02,94.66L580.95,86.18" stroke="#b82838" stroke-width="3.0"/><path d="M593.84,104.18L587.02,94.66" stroke="#6464e6" stroke-width="0.90"/><path d="M587.02,94.66L580.95,86.18" stroke="#ea8e9a" stroke-width="0.90"/>
<path d="M601.41,105.21L613.51,95.47" stroke="#2222b8" stroke-width="3.0"/><path d="M613.51,95.47L629.94,82.24" stroke="#b82838" stroke-width="3.0"/><path d="M601.41,105.21L613.51,95.47" stroke="#6464e6" stroke-width="0.90"/><path d="M613.51,95.47L629.94,82.24" stroke="#ea8e9a" stroke-width="0.90"/>
<path d="M599.55,113.69L603.16,120.96" stroke="#2222b8" stroke-width="3.0"/><path d="M603.16,120.96L606.20,127.09" stroke="#b82838" stroke-width="3.0"/><path d="M599.55,113.69L603.16,120.96" stroke="#6464e6" stroke-width="0.90"/><path d="M603.16,120.96L606.20,127.09" stroke="#ea8e9a" stroke-width="0.90"/>
<path d="M592.80,112.26L580.70,122.31" stroke="#2222b8" stroke-width="3.0"/><path d="M580.70,122.31L564.31,135.92" stroke="#b82838" stroke-width="3.0"/><path d="M592.80,112.26L580.70,122.31" stroke="#6464e6" stroke-width="0.90"/><path d="M580.70,122.31L564.31,135.92" stroke="#ea8e9a" stroke-width="0.90"/>
<path d="M640.52,100.74L636.61,93.91" stroke="#2222b8" stroke-width="3.0"/><path d="M636.61,93.91L629.94,82.24" stroke="#b82838" stroke-width="3.0"/><path d="M640.52,100.74L636.61,93.91" stroke="#6464e6" stroke-width="0.90"/><path d="M636.61,93.91L629.94,82.24" stroke="#ea8e9a" stroke-width="0.90"/>
<path d="M646.49,110.12L653.29,119.77" stroke="#2222b8" stroke-width="3.0"/><path d="M653.29,119.77L663.30,133.98" stroke="#b82838" stroke-width="3.0"/><path d="M646.49,110.12L653.29,119.77" stroke="#6464e6" stroke-width="0.90"/><path d="M653.29,119.77L663.30,133.98" stroke="#ea8e9a" stroke-width="0.90"/>
<circle cx="597.08" cy="108.70" r="7.95" fill="url(#gCr)"/>
<circle cx="530.86" cy="83.54" r="8.55" fill="url(#gTe)"/>
<circle cx="629.94" cy="82.24" r="8.55" fill="url(#gTe)"/>
<circle cx="564.31" cy="135.92" r="8.55" fill="url(#gTe)"/>
<circle cx="663.30" cy="133.98" r="8.55" fill="url(#gTe)"/>
<path d="M594.28,103.90L590.41,97.26" stroke="#2222b8" stroke-width="3.0"/><path d="M590.41,97.26L583.74,85.81" stroke="#b82838" stroke-width="3.0"/><path d="M594.28,103.90L590.41,97.26" stroke="#6464e6" stroke-width="0.90"/><path d="M590.41,97.26L583.74,85.81" stroke="#ea8e9a" stroke-width="0.90"/>
<path d="M600.27,113.26L607.08,122.96" stroke="#2222b8" stroke-width="3.0"/><path d="M607.08,122.96L617.09,137.22" stroke="#b82838" stroke-width="3.0"/><path d="M600.27,113.26L607.08,122.96" stroke="#6464e6" stroke-width="0.90"/><path d="M607.08,122.96L617.09,137.22" stroke="#ea8e9a" stroke-width="0.90"/>
<circle cx="583.74" cy="85.81" r="8.55" fill="url(#gTe)"/>
<circle cx="617.09" cy="137.22" r="8.55" fill="url(#gTe)"/>
<path d="M561.1,144.8V156.2L556,153.4L564.2,168.3L572.3,153.4L567.1,156.2V144.8z" fill="#4db7e6"/>
<path d="M218.9,90.7H233.7V80.4L258.8,104.9L233.7,129.8V120H218.9z" fill="#1d5a1d" opacity="0.72" transform="translate(3,3.2)" filter="url(#blur2)"/>
<path d="M218.9,90.7H233.7V80.4L258.8,104.9L233.7,129.8V120H218.9z" fill="#44d244"/>
<path d="M455.3,90.7H469.9V80.7L494.9,105.1L469.9,129.8V119.7H455.3z" fill="#24406e" opacity="0.72" transform="translate(3,3.2)" filter="url(#blur2)"/>
<path d="M455.3,90.7H469.9V80.7L494.9,105.1L469.9,129.8V119.7H455.3z" fill="#55bce8"/>
<g font-family="'Liberation Sans',sans-serif" font-size="20.6" text-anchor="middle" fill="#111" stroke="#111" stroke-width="0.22">
<text x="112.2" y="23.6">bulk</text><text x="112" y="47.9">(relaxed)</text>
<text x="356.7" y="23.6" font-size="20.1">1ML<tspan font-size="17" dy="-0.7" dx="1">–</tspan><tspan dy="0.7" dx="1.2">b</tspan></text><text x="356.7" y="47.9">(unrelaxed)</text>
<text x="587" y="23.6" font-size="19.9">1ML</text><text x="586.4" y="47.9">(relaxed)</text>
</g>
<text x="-0.4" y="12.6" font-family="'Liberation Sans',sans-serif" font-weight="bold" font-size="24">a</text>
<path d="M195,174.5H228.5M168,198.5H228.5" stroke="#505050" stroke-width="0.85" stroke-dasharray="4 3" fill="none"/>
<path d="M225.3,178V194.5" stroke="#888" stroke-width="1.2"/>
<path d="M225.3,174.4l2.6,5.6h-5.2zM225.3,198l2.6,-5.6h-5.2z" fill="#000"/>
<text x="235.2" y="190.9" font-family="'Liberation Sans',sans-serif" font-style="italic" font-size="19.5">h<tspan font-size="10.8" dy="4.6" dx="0.3">Te</tspan></text>
<path d="M324.7,224.3V201" stroke="#2418f5" stroke-width="3.2"/><path d="M324.7,191.8l4,10.8h-8z" fill="#2418f5"/>
<path d="M324.7,224.3H343" stroke="#3ee01c" stroke-width="3"/><path d="M354.2,224.3l-11.5,-3.9v7.8z" fill="#3ee01c"/>
<path d="M324.7,224.3L308,225.1" stroke="#ec2416" stroke-width="3"/><path d="M298.8,225.4l9.6,-3.6l0.3,7z" fill="#ec2416"/>
<circle cx="324.7" cy="224.3" r="3.1" fill="url(#gO)"/>
<g font-family="'Liberation Sans',sans-serif" font-size="19" fill="#000"><text x="324.4" y="188" text-anchor="middle">c</text><text x="285.2" y="234">a</text><text x="356.5" y="230.7">b</text></g>
<path d="M436.10,222.50L455.65,203.10" stroke="#2222b8" stroke-width="3.9"/><path d="M455.65,203.10L475.20,183.70" stroke="#b82838" stroke-width="3.9"/><path d="M436.10,222.50L455.65,203.10" stroke="#6464e6" stroke-width="1.17"/><path d="M455.65,203.10L475.20,183.70" stroke="#ea8e9a" stroke-width="1.17"/>
<path d="M514.60,222.50L494.90,203.10" stroke="#2222b8" stroke-width="3.9"/><path d="M494.90,203.10L475.20,183.70" stroke="#b82838" stroke-width="3.9"/><path d="M514.60,222.50L494.90,203.10" stroke="#6464e6" stroke-width="1.17"/><path d="M494.90,203.10L475.20,183.70" stroke="#ea8e9a" stroke-width="1.17"/>
<circle cx="475.20" cy="183.70" r="11.40" fill="url(#gTeL)"/>
<circle cx="436.10" cy="222.50" r="10.50" fill="url(#gCr)"/>
<circle cx="514.60" cy="222.50" r="10.50" fill="url(#gCr)"/>
<path d="M459.2,201.8Q475.2,214.6 491.6,201.8" fill="none" stroke="#000" stroke-width="1.3"/>
<text x="475.2" y="227.4" font-family="'Liberation Sans',sans-serif" font-size="19.8" text-anchor="middle">θ</text>
<circle cx="609.90" cy="199.20" r="8.30" fill="url(#gCr)"/>
<circle cx="609.90" cy="223.70" r="8.80" fill="url(#gTeL)"/>
<g font-family="'Liberation Sans',sans-serif" font-size="19.2"><text x="630.2" y="206.2">Cr</text><text x="632" y="230.6">Te</text></g>
<g font-family="'DejaVu Sans','Liberation Sans',sans-serif" fill="#000">
<clipPath id="axc"><rect x="177.0" y="293.5" width="412.6" height="341.0"/></clipPath>
<g clip-path="url(#axc)">
<g opacity="0.92"><rect x="219.70" y="388.43" width="7.4" height="7.4" fill="#a08ce6"/><rect x="222.20" y="390.93" width="2.4" height="2.4" fill="#c9bef4"/><rect x="247.04" y="408.47" width="7.4" height="7.4" fill="#a08ce6"/><rect x="249.54" y="410.97" width="2.4" height="2.4" fill="#c9bef4"/><rect x="274.39" y="420.26" width="7.4" height="7.4" fill="#a08ce6"/><rect x="276.89" y="422.76" width="2.4" height="2.4" fill="#c9bef4"/><rect x="288.06" y="475.67" width="7.4" height="7.4" fill="#a08ce6"/><rect x="290.56" y="478.17" width="2.4" height="2.4" fill="#c9bef4"/><rect x="301.73" y="498.07" width="7.4" height="7.4" fill="#a08ce6"/><rect x="304.23" y="500.57" width="2.4" height="2.4" fill="#c9bef4"/><rect x="316.28" y="588.74" width="7.4" height="7.4" fill="#a08ce6"/><rect x="318.78" y="591.24" width="2.4" height="2.4" fill="#c9bef4"/><rect x="329.08" y="628.94" width="7.4" height="7.4" fill="#a08ce6"/><rect x="331.58" y="631.44" width="2.4" height="2.4" fill="#c9bef4"/></g>
<g opacity="0.92"><path d="M223.40,385.67 L227.20,388.43 L225.75,392.90 L221.04,392.90 L219.59,388.43z" fill="#41369f" stroke="#41369f" stroke-width="0.5" stroke-linejoin="round"/><circle cx="223.40" cy="389.87" r="1.15" fill="#8d83da"/><path d="M250.74,391.56 L254.54,394.33 L253.09,398.80 L248.39,398.80 L246.94,394.33z" fill="#41369f" stroke="#41369f" stroke-width="0.5" stroke-linejoin="round"/><circle cx="250.74" cy="395.76" r="1.15" fill="#8d83da"/><path d="M278.09,435.42 L281.89,438.19 L280.44,442.66 L275.73,442.66 L274.28,438.19z" fill="#41369f" stroke="#41369f" stroke-width="0.5" stroke-linejoin="round"/><circle cx="278.09" cy="439.62" r="1.15" fill="#8d83da"/><path d="M291.76,454.52 L295.56,457.29 L294.11,461.76 L289.41,461.76 L287.95,457.29z" fill="#41369f" stroke="#41369f" stroke-width="0.5" stroke-linejoin="round"/><circle cx="291.76" cy="458.72" r="1.15" fill="#8d83da"/><path d="M305.43,511.82 L309.23,514.58 L307.78,519.06 L303.08,519.06 L301.63,514.58z" fill="#41369f" stroke="#41369f" stroke-width="0.5" stroke-linejoin="round"/><circle cx="305.43" cy="516.02" r="1.15" fill="#8d83da"/><path d="M319.98,554.62 L323.78,557.38 L322.33,561.85 L317.63,561.85 L316.17,557.38z" fill="#41369f" stroke="#41369f" stroke-width="0.5" stroke-linejoin="round"/><circle cx="319.98" cy="558.82" r="1.15" fill="#8d83da"/><path d="M332.78,618.40 L336.58,621.17 L335.13,625.64 L330.42,625.64 L328.97,621.17z" fill="#41369f" stroke="#41369f" stroke-width="0.5" stroke-linejoin="round"/><circle cx="332.78" cy="622.60" r="1.15" fill="#8d83da"/></g>
<path d="M196.10,345.30 L197.80,347.38 L199.50,349.46 L201.19,351.55 L202.89,353.63 L204.57,355.71 L206.26,357.79 L207.94,359.87 L209.61,361.96 L211.28,364.04 L212.95,366.12 L214.62,368.20 L216.28,370.28 L217.94,372.37 L219.59,374.45 L221.25,376.53 L222.89,378.61 L224.54,380.69 L226.18,382.78 L227.82,384.86 L229.46,386.94 L231.12,389.02 L232.79,391.10 L234.47,393.19 L236.16,395.27 L237.86,397.35 L239.54,399.43 L241.22,401.51 L242.88,403.60 L244.52,405.68 L246.14,407.76 L247.73,409.84 L249.29,411.92 L250.80,414.01 L252.27,416.09 L253.70,418.17 L255.06,420.25 L256.39,422.33 L257.69,424.42 L258.97,426.50 L260.22,428.58 L261.45,430.66 L262.66,432.74 L263.85,434.83 L265.02,436.91 L266.18,438.99 L267.31,441.07 L268.44,443.15 L269.55,445.24 L270.65,447.32 L271.74,449.40 L272.82,451.48 L273.89,453.56 L274.95,455.65 L276.01,457.73 L277.07,459.81 L278.13,461.89 L279.18,463.97 L280.24,466.06 L281.29,468.14 L282.35,470.22 L283.42,472.30 L284.47,474.38 L285.52,476.47 L286.55,478.55 L287.56,480.63 L288.55,482.71 L289.51,484.79 L290.44,486.88 L291.37,488.96 L292.29,491.04 L293.19,493.12 L294.07,495.21 L294.93,497.29 L295.76,499.37 L296.55,501.45 L297.30,503.53 L298.01,505.62 L298.66,507.70 L299.29,509.78 L299.88,511.86 L300.47,513.94 L301.05,516.03 L301.65,518.11 L302.27,520.19 L302.91,522.27 L303.56,524.35 L304.22,526.44 L304.89,528.52 L305.56,530.60 L306.22,532.68 L306.87,534.76 L307.50,536.85 L308.11,538.93 L308.70,541.01 L309.25,543.09 L309.76,545.17 L310.27,547.26 L310.75,549.34 L311.23,551.42 L311.69,553.50 L312.14,555.58 L312.58,557.67 L312.99,559.75 L313.40,561.83 L313.79,563.91 L314.16,565.99 L314.51,568.08 L314.85,570.16 L315.18,572.24 L315.50,574.32 L315.81,576.40 L316.10,578.49 L316.39,580.57 L316.66,582.65 L316.92,584.73 L317.17,586.81 L317.41,588.90 L317.64,590.98 L317.86,593.06 L318.06,595.14 L318.26,597.22 L318.44,599.31 L318.61,601.39 L318.77,603.47 L318.93,605.55 L319.09,607.63 L319.24,609.72 L319.39,611.80 L319.54,613.88 L319.68,615.96 L319.82,618.04 L319.95,620.13 L320.08,622.21 L320.20,624.29 L320.31,626.37 L320.42,628.45 L320.52,630.54 L320.62,632.62 L320.70,634.70 L578.88,634.70" fill="none" stroke="#3f8cc0" stroke-width="1.9" stroke-dasharray="12 3 1.9 3" />
<g opacity="0.92"><path d="M196.05,334.27L200.55,343.27L191.55,343.27z" fill="#3f8cc0" stroke="#3f8cc0" stroke-width="0.9" stroke-linejoin="round"/><path d="M196.05,337.57L197.75,341.37L194.35,341.37z" fill="#6aa6d0"/><path d="M223.40,376.13L227.90,385.13L218.90,385.13z" fill="#3f8cc0" stroke="#3f8cc0" stroke-width="0.9" stroke-linejoin="round"/><path d="M223.40,379.43L225.09,383.23L221.70,383.23z" fill="#6aa6d0"/><path d="M250.74,411.38L255.24,420.38L246.24,420.38z" fill="#3f8cc0" stroke="#3f8cc0" stroke-width="0.9" stroke-linejoin="round"/><path d="M250.74,414.68L252.44,418.48L249.04,418.48z" fill="#6aa6d0"/><path d="M278.09,466.32L282.59,475.32L273.59,475.32z" fill="#3f8cc0" stroke="#3f8cc0" stroke-width="0.9" stroke-linejoin="round"/><path d="M278.09,469.62L279.79,473.42L276.39,473.42z" fill="#6aa6d0"/><path d="M291.76,493.20L296.26,502.20L287.26,502.20z" fill="#3f8cc0" stroke="#3f8cc0" stroke-width="0.9" stroke-linejoin="round"/><path d="M291.76,496.50L293.46,500.30L290.06,500.30z" fill="#6aa6d0"/><path d="M305.43,505.23L309.93,514.23L300.93,514.23z" fill="#3f8cc0" stroke="#3f8cc0" stroke-width="0.9" stroke-linejoin="round"/><path d="M305.43,508.53L307.13,512.33L303.73,512.33z" fill="#6aa6d0"/><path d="M319.98,604.62L324.48,613.62L315.48,613.62z" fill="#3f8cc0" stroke="#3f8cc0" stroke-width="0.9" stroke-linejoin="round"/><path d="M319.98,607.92L321.68,611.72L318.28,611.72z" fill="#6aa6d0"/><path d="M360.12,624.89L364.62,633.89L355.62,633.89z" fill="#3f8cc0" stroke="#3f8cc0" stroke-width="0.9" stroke-linejoin="round"/><path d="M360.12,628.19L361.82,631.99L358.42,631.99z" fill="#6aa6d0"/><path d="M360.12,626.66L364.62,635.66L355.62,635.66z" fill="#3f8cc0" stroke="#3f8cc0" stroke-width="0.9" stroke-linejoin="round"/><path d="M360.12,629.96L361.82,633.76L358.42,633.76z" fill="#6aa6d0"/><path d="M414.81,630.20L419.31,639.20L410.31,639.20z" fill="#3f8cc0" stroke="#3f8cc0" stroke-width="0.9" stroke-linejoin="round"/><path d="M414.81,633.50L416.51,637.30L413.11,637.30z" fill="#6aa6d0"/></g>
<g opacity="0.92"><path d="M194.50,312.07h3.10v2.75h2.75v3.10h-2.75v2.75h-3.10v-2.75h-2.75v-3.10h2.75z" fill="#4db848" stroke="#4db848" stroke-width="1.7" stroke-linejoin="round"/><path d="M249.19,321.50h3.10v2.75h2.75v3.10h-2.75v2.75h-3.10v-2.75h-2.75v-3.10h2.75z" fill="#4db848" stroke="#4db848" stroke-width="1.7" stroke-linejoin="round"/><path d="M303.88,342.72h3.10v2.75h2.75v3.10h-2.75v2.75h-3.10v-2.75h-2.75v-3.10h2.75z" fill="#4db848" stroke="#4db848" stroke-width="1.7" stroke-linejoin="round"/><path d="M358.57,376.56h3.10v2.75h2.75v3.10h-2.75v2.75h-3.10v-2.75h-2.75v-3.10h2.75z" fill="#4db848" stroke="#4db848" stroke-width="1.7" stroke-linejoin="round"/><path d="M413.26,408.87h3.10v2.75h2.75v3.10h-2.75v2.75h-3.10v-2.75h-2.75v-3.10h2.75z" fill="#4db848" stroke="#4db848" stroke-width="1.7" stroke-linejoin="round"/><path d="M440.61,449.78h3.10v2.75h2.75v3.10h-2.75v2.75h-3.10v-2.75h-2.75v-3.10h2.75z" fill="#4db848" stroke="#4db848" stroke-width="1.7" stroke-linejoin="round"/><path d="M454.28,474.77h3.10v2.75h2.75v3.10h-2.75v2.75h-3.10v-2.75h-2.75v-3.10h2.75z" fill="#4db848" stroke="#4db848" stroke-width="1.7" stroke-linejoin="round"/><path d="M467.95,491.28h3.10v2.75h2.75v3.10h-2.75v2.75h-3.10v-2.75h-2.75v-3.10h2.75z" fill="#4db848" stroke="#4db848" stroke-width="1.7" stroke-linejoin="round"/><path d="M481.62,511.32h3.10v2.75h2.75v3.10h-2.75v2.75h-3.10v-2.75h-2.75v-3.10h2.75z" fill="#4db848" stroke="#4db848" stroke-width="1.7" stroke-linejoin="round"/><path d="M495.30,604.70h3.10v2.75h2.75v3.10h-2.75v2.75h-3.10v-2.75h-2.75v-3.10h2.75z" fill="#4db848" stroke="#4db848" stroke-width="1.7" stroke-linejoin="round"/><path d="M522.64,624.15h3.10v2.75h2.75v3.10h-2.75v2.75h-3.10v-2.75h-2.75v-3.10h2.75z" fill="#4db848" stroke="#4db848" stroke-width="1.7" stroke-linejoin="round"/><path d="M577.33,630.40h3.10v2.75h2.75v3.10h-2.75v2.75h-3.10v-2.75h-2.75v-3.10h2.75z" fill="#4db848" stroke="#4db848" stroke-width="1.7" stroke-linejoin="round"/></g>
<path d="M196.00,307.40 L202.26,309.75 L208.45,312.11 L214.57,314.46 L220.61,316.82 L226.59,319.17 L232.49,321.53 L238.31,323.88 L244.06,326.24 L249.73,328.59 L255.33,330.95 L260.91,333.30 L266.43,335.66 L271.89,338.01 L277.28,340.37 L282.57,342.72 L287.75,345.07 L292.80,347.43 L297.72,349.78 L302.47,352.14 L306.99,354.49 L311.35,356.85 L315.65,359.20 L319.96,361.56 L324.37,363.91 L328.83,366.27 L333.30,368.62 L337.72,370.98 L342.05,373.33 L346.27,375.69 L350.44,378.04 L354.51,380.39 L358.42,382.75 L362.12,385.10 L365.60,387.46 L368.98,389.81 L372.37,392.17 L375.87,394.52 L379.43,396.88 L382.95,399.23 L386.34,401.59 L389.53,403.94 L392.59,406.30 L395.55,408.65 L398.43,411.01 L401.25,413.36 L404.03,415.72 L406.77,418.07 L409.45,420.42 L412.08,422.78 L414.67,425.13 L417.24,427.49 L419.79,429.84 L422.34,432.20 L424.87,434.55 L427.38,436.91 L429.83,439.26 L432.23,441.62 L434.55,443.97 L436.82,446.33 L439.05,448.68 L441.24,451.04 L443.37,453.39 L445.45,455.74 L447.47,458.10 L449.44,460.45 L451.34,462.81 L453.18,465.16 L454.98,467.52 L456.74,469.87 L458.47,472.23 L460.20,474.58 L461.93,476.94 L463.64,479.29 L465.31,481.65 L466.92,484.00 L468.46,486.36 L469.89,488.71 L471.24,491.06 L472.55,493.42 L473.81,495.77 L475.03,498.13 L476.19,500.48 L477.30,502.84 L478.35,505.19 L479.34,507.55 L480.27,509.90 L481.20,512.26 L482.10,514.61 L482.98,516.97 L483.84,519.32 L484.67,521.68 L485.47,524.03 L486.23,526.38 L486.96,528.74 L487.64,531.09 L488.27,533.45 L488.85,535.80 L489.38,538.16 L489.86,540.51 L490.32,542.87 L490.75,545.22 L491.17,547.58 L491.56,549.93 L491.93,552.29 L492.29,554.64 L492.62,557.00 L492.93,559.35 L493.23,561.71 L493.50,564.06 L493.75,566.41 L493.98,568.77 L494.19,571.12 L494.39,573.48 L494.57,575.83 L494.75,578.19 L494.91,580.54 L495.07,582.90 L495.21,585.25 L495.36,587.61 L495.49,589.96 L495.63,592.32 L495.76,594.67 L495.90,597.03 L496.03,599.38 L496.17,601.73 L496.30,604.09 L496.43,606.44 L496.56,608.80 L496.69,611.15 L496.81,613.51 L496.93,615.86 L497.05,618.22 L497.17,620.57 L497.28,622.93 L497.39,625.28 L497.50,627.64 L497.60,629.99 L497.70,632.35 L497.80,634.70 L578.88,634.70" fill="none" stroke="#4db848" stroke-width="1.9" stroke-dasharray="12 3 1.9 3" />
<g opacity="0.92"><circle cx="196.30" cy="325.95" r="4.95" fill="#f1872a"/><circle cx="196.30" cy="325.95" r="2.87" fill="#f39a4e"/><circle cx="250.99" cy="333.03" r="4.95" fill="#f1872a"/><circle cx="250.99" cy="333.03" r="2.87" fill="#f39a4e"/><circle cx="305.68" cy="356.02" r="4.95" fill="#f1872a"/><circle cx="305.68" cy="356.02" r="2.87" fill="#f39a4e"/><circle cx="360.37" cy="378.77" r="4.95" fill="#f1872a"/><circle cx="360.37" cy="378.77" r="2.87" fill="#f39a4e"/><circle cx="415.06" cy="421.45" r="4.95" fill="#f1872a"/><circle cx="415.06" cy="421.45" r="2.87" fill="#f39a4e"/><circle cx="442.41" cy="452.22" r="4.95" fill="#f1872a"/><circle cx="442.41" cy="452.22" r="2.87" fill="#f39a4e"/><circle cx="469.75" cy="466.25" r="4.95" fill="#f1872a"/><circle cx="469.75" cy="466.25" r="2.87" fill="#f39a4e"/><circle cx="497.10" cy="497.61" r="4.95" fill="#f1872a"/><circle cx="497.10" cy="497.61" r="2.87" fill="#f39a4e"/><circle cx="524.44" cy="589.69" r="4.95" fill="#f1872a"/><circle cx="524.44" cy="589.69" r="2.87" fill="#f39a4e"/><circle cx="579.13" cy="630.02" r="4.95" fill="#f1872a"/><circle cx="579.13" cy="630.02" r="2.87" fill="#f39a4e"/></g>
<path d="M196.00,317.40 L203.10,319.68 L210.08,321.97 L216.93,324.25 L223.64,326.53 L230.19,328.81 L236.57,331.10 L242.78,333.38 L248.80,335.66 L254.63,337.94 L260.31,340.23 L265.86,342.51 L271.29,344.79 L276.60,347.08 L281.80,349.36 L286.91,351.64 L291.93,353.92 L296.88,356.21 L301.76,358.49 L306.58,360.77 L311.18,363.05 L315.62,365.34 L320.11,367.62 L324.83,369.90 L329.73,372.19 L334.71,374.47 L339.66,376.75 L344.50,379.03 L349.22,381.32 L353.87,383.60 L358.47,385.88 L363.03,388.16 L367.56,390.45 L371.95,392.73 L376.10,395.01 L380.11,397.30 L383.97,399.58 L387.70,401.86 L391.26,404.14 L394.69,406.43 L398.04,408.71 L401.36,410.99 L404.71,413.27 L408.10,415.56 L411.49,417.84 L414.87,420.12 L418.22,422.41 L421.54,424.69 L424.82,426.97 L428.06,429.25 L431.29,431.54 L434.47,433.82 L437.58,436.10 L440.57,438.38 L443.44,440.67 L446.22,442.95 L448.91,445.23 L451.55,447.52 L454.13,449.80 L456.68,452.08 L459.23,454.36 L461.75,456.65 L464.20,458.93 L466.53,461.21 L468.70,463.49 L470.72,465.78 L472.61,468.06 L474.42,470.34 L476.17,472.63 L477.88,474.91 L479.59,477.19 L481.32,479.47 L483.05,481.76 L484.78,484.04 L486.49,486.32 L488.18,488.61 L489.83,490.89 L491.44,493.17 L492.99,495.45 L494.48,497.74 L495.89,500.02 L497.24,502.30 L498.55,504.58 L499.83,506.87 L501.07,509.15 L502.28,511.43 L503.45,513.72 L504.58,516.00 L505.68,518.28 L506.74,520.56 L507.75,522.85 L508.72,525.13 L509.64,527.41 L510.54,529.69 L511.40,531.98 L512.24,534.26 L513.05,536.54 L513.82,538.83 L514.56,541.11 L515.27,543.39 L515.95,545.67 L516.59,547.96 L517.20,550.24 L517.81,552.52 L518.41,554.80 L519.00,557.09 L519.57,559.37 L520.10,561.65 L520.59,563.94 L521.03,566.22 L521.41,568.50 L521.72,570.78 L521.96,573.07 L522.19,575.35 L522.39,577.63 L522.58,579.91 L522.75,582.20 L522.90,584.48 L523.05,586.76 L523.19,589.05 L523.32,591.33 L523.45,593.61 L523.57,595.89 L523.70,598.18 L523.83,600.46 L523.95,602.74 L524.08,605.02 L524.20,607.31 L524.32,609.59 L524.43,611.87 L524.55,614.16 L524.66,616.44 L524.76,618.72 L524.87,621.00 L524.97,623.29 L525.06,625.57 L525.15,627.85 L525.24,630.13 L525.32,632.42 L525.40,634.70 L578.88,634.70" fill="none" stroke="#f1872a" stroke-width="1.9" stroke-dasharray="12 3 1.9 3" />
</g>
<rect x="177.0" y="293.5" width="412.6" height="341.0" fill="none" stroke="#1a1a1a" stroke-width="1"/>
<clipPath id="axb"><rect x="177.0" y="634.0" width="412.6" height="1"/></clipPath>
<g clip-path="url(#axb)" opacity="0.5"><path d="M196.10,345.30 L197.80,347.38 L199.50,349.46 L201.19,351.55 L202.89,353.63 L204.57,355.71 L206.26,357.79 L207.94,359.87 L209.61,361.96 L211.28,364.04 L212.95,366.12 L214.62,368.20 L216.28,370.28 L217.94,372.37 L219.59,374.45 L221.25,376.53 L222.89,378.61 L224.54,380.69 L226.18,382.78 L227.82,384.86 L229.46,386.94 L231.12,389.02 L232.79,391.10 L234.47,393.19 L236.16,395.27 L237.86,397.35 L239.54,399.43 L241.22,401.51 L242.88,403.60 L244.52,405.68 L246.14,407.76 L247.73,409.84 L249.29,411.92 L250.80,414.01 L252.27,416.09 L253.70,418.17 L255.06,420.25 L256.39,422.33 L257.69,424.42 L258.97,426.50 L260.22,428.58 L261.45,430.66 L262.66,432.74 L263.85,434.83 L265.02,436.91 L266.18,438.99 L267.31,441.07 L268.44,443.15 L269.55,445.24 L270.65,447.32 L271.74,449.40 L272.82,451.48 L273.89,453.56 L274.95,455.65 L276.01,457.73 L277.07,459.81 L278.13,461.89 L279.18,463.97 L280.24,466.06 L281.29,468.14 L282.35,470.22 L283.42,472.30 L284.47,474.38 L285.52,476.47 L286.55,478.55 L287.56,480.63 L288.55,482.71 L289.51,484.79 L290.44,486.88 L291.37,488.96 L292.29,491.04 L293.19,493.12 L294.07,495.21 L294.93,497.29 L295.76,499.37 L296.55,501.45 L297.30,503.53 L298.01,505.62 L298.66,507.70 L299.29,509.78 L299.88,511.86 L300.47,513.94 L301.05,516.03 L301.65,518.11 L302.27,520.19 L302.91,522.27 L303.56,524.35 L304.22,526.44 L304.89,528.52 L305.56,530.60 L306.22,532.68 L306.87,534.76 L307.50,536.85 L308.11,538.93 L308.70,541.01 L309.25,543.09 L309.76,545.17 L310.27,547.26 L310.75,549.34 L311.23,551.42 L311.69,553.50 L312.14,555.58 L312.58,557.67 L312.99,559.75 L313.40,561.83 L313.79,563.91 L314.16,565.99 L314.51,568.08 L314.85,570.16 L315.18,572.24 L315.50,574.32 L315.81,576.40 L316.10,578.49 L316.39,580.57 L316.66,582.65 L316.92,584.73 L317.17,586.81 L317.41,588.90 L317.64,590.98 L317.86,593.06 L318.06,595.14 L318.26,597.22 L318.44,599.31 L318.61,601.39 L318.77,603.47 L318.93,605.55 L319.09,607.63 L319.24,609.72 L319.39,611.80 L319.54,613.88 L319.68,615.96 L319.82,618.04 L319.95,620.13 L320.08,622.21 L320.20,624.29 L320.31,626.37 L320.42,628.45 L320.52,630.54 L320.62,632.62 L320.70,634.70 L578.88,634.70" fill="none" stroke="#3f8cc0" stroke-width="1.9" stroke-dasharray="12 3 1.9 3" /><path d="M196.00,307.40 L202.26,309.75 L208.45,312.11 L214.57,314.46 L220.61,316.82 L226.59,319.17 L232.49,321.53 L238.31,323.88 L244.06,326.24 L249.73,328.59 L255.33,330.95 L260.91,333.30 L266.43,335.66 L271.89,338.01 L277.28,340.37 L282.57,342.72 L287.75,345.07 L292.80,347.43 L297.72,349.78 L302.47,352.14 L306.99,354.49 L311.35,356.85 L315.65,359.20 L319.96,361.56 L324.37,363.91 L328.83,366.27 L333.30,368.62 L337.72,370.98 L342.05,373.33 L346.27,375.69 L350.44,378.04 L354.51,380.39 L358.42,382.75 L362.12,385.10 L365.60,387.46 L368.98,389.81 L372.37,392.17 L375.87,394.52 L379.43,396.88 L382.95,399.23 L386.34,401.59 L389.53,403.94 L392.59,406.30 L395.55,408.65 L398.43,411.01 L401.25,413.36 L404.03,415.72 L406.77,418.07 L409.45,420.42 L412.08,422.78 L414.67,425.13 L417.24,427.49 L419.79,429.84 L422.34,432.20 L424.87,434.55 L427.38,436.91 L429.83,439.26 L432.23,441.62 L434.55,443.97 L436.82,446.33 L439.05,448.68 L441.24,451.04 L443.37,453.39 L445.45,455.74 L447.47,458.10 L449.44,460.45 L451.34,462.81 L453.18,465.16 L454.98,467.52 L456.74,469.87 L458.47,472.23 L460.20,474.58 L461.93,476.94 L463.64,479.29 L465.31,481.65 L466.92,484.00 L468.46,486.36 L469.89,488.71 L471.24,491.06 L472.55,493.42 L473.81,495.77 L475.03,498.13 L476.19,500.48 L477.30,502.84 L478.35,505.19 L479.34,507.55 L480.27,509.90 L481.20,512.26 L482.10,514.61 L482.98,516.97 L483.84,519.32 L484.67,521.68 L485.47,524.03 L486.23,526.38 L486.96,528.74 L487.64,531.09 L488.27,533.45 L488.85,535.80 L489.38,538.16 L489.86,540.51 L490.32,542.87 L490.75,545.22 L491.17,547.58 L491.56,549.93 L491.93,552.29 L492.29,554.64 L492.62,557.00 L492.93,559.35 L493.23,561.71 L493.50,564.06 L493.75,566.41 L493.98,568.77 L494.19,571.12 L494.39,573.48 L494.57,575.83 L494.75,578.19 L494.91,580.54 L495.07,582.90 L495.21,585.25 L495.36,587.61 L495.49,589.96 L495.63,592.32 L495.76,594.67 L495.90,597.03 L496.03,599.38 L496.17,601.73 L496.30,604.09 L496.43,606.44 L496.56,608.80 L496.69,611.15 L496.81,613.51 L496.93,615.86 L497.05,618.22 L497.17,620.57 L497.28,622.93 L497.39,625.28 L497.50,627.64 L497.60,629.99 L497.70,632.35 L497.80,634.70 L578.88,634.70" fill="none" stroke="#4db848" stroke-width="1.9" stroke-dasharray="12 3 1.9 3" /><path d="M196.00,317.40 L203.10,319.68 L210.08,321.97 L216.93,324.25 L223.64,326.53 L230.19,328.81 L236.57,331.10 L242.78,333.38 L248.80,335.66 L254.63,337.94 L260.31,340.23 L265.86,342.51 L271.29,344.79 L276.60,347.08 L281.80,349.36 L286.91,351.64 L291.93,353.92 L296.88,356.21 L301.76,358.49 L306.58,360.77 L311.18,363.05 L315.62,365.34 L320.11,367.62 L324.83,369.90 L329.73,372.19 L334.71,374.47 L339.66,376.75 L344.50,379.03 L349.22,381.32 L353.87,383.60 L358.47,385.88 L363.03,388.16 L367.56,390.45 L371.95,392.73 L376.10,395.01 L380.11,397.30 L383.97,399.58 L387.70,401.86 L391.26,404.14 L394.69,406.43 L398.04,408.71 L401.36,410.99 L404.71,413.27 L408.10,415.56 L411.49,417.84 L414.87,420.12 L418.22,422.41 L421.54,424.69 L424.82,426.97 L428.06,429.25 L431.29,431.54 L434.47,433.82 L437.58,436.10 L440.57,438.38 L443.44,440.67 L446.22,442.95 L448.91,445.23 L451.55,447.52 L454.13,449.80 L456.68,452.08 L459.23,454.36 L461.75,456.65 L464.20,458.93 L466.53,461.21 L468.70,463.49 L470.72,465.78 L472.61,468.06 L474.42,470.34 L476.17,472.63 L477.88,474.91 L479.59,477.19 L481.32,479.47 L483.05,481.76 L484.78,484.04 L486.49,486.32 L488.18,488.61 L489.83,490.89 L491.44,493.17 L492.99,495.45 L494.48,497.74 L495.89,500.02 L497.24,502.30 L498.55,504.58 L499.83,506.87 L501.07,509.15 L502.28,511.43 L503.45,513.72 L504.58,516.00 L505.68,518.28 L506.74,520.56 L507.75,522.85 L508.72,525.13 L509.64,527.41 L510.54,529.69 L511.40,531.98 L512.24,534.26 L513.05,536.54 L513.82,538.83 L514.56,541.11 L515.27,543.39 L515.95,545.67 L516.59,547.96 L517.20,550.24 L517.81,552.52 L518.41,554.80 L519.00,557.09 L519.57,559.37 L520.10,561.65 L520.59,563.94 L521.03,566.22 L521.41,568.50 L521.72,570.78 L521.96,573.07 L522.19,575.35 L522.39,577.63 L522.58,579.91 L522.75,582.20 L522.90,584.48 L523.05,586.76 L523.19,589.05 L523.32,591.33 L523.45,593.61 L523.57,595.89 L523.70,598.18 L523.83,600.46 L523.95,602.74 L524.08,605.02 L524.20,607.31 L524.32,609.59 L524.43,611.87 L524.55,614.16 L524.66,616.44 L524.76,618.72 L524.87,621.00 L524.97,623.29 L525.06,625.57 L525.15,627.85 L525.24,630.13 L525.32,632.42 L525.40,634.70 L578.88,634.70" fill="none" stroke="#f1872a" stroke-width="1.9" stroke-dasharray="12 3 1.9 3" /></g>
<path d="M196.05,634.5v4.6" stroke="#1a1a1a" stroke-width="1"/>
<text transform="translate(196.1,664.8) scale(1,1.05)" font-size="27" text-anchor="middle">100</text>
<path d="M305.43,634.5v4.6" stroke="#1a1a1a" stroke-width="1"/>
<text transform="translate(305.4,664.8) scale(1,1.05)" font-size="27" text-anchor="middle">200</text>
<path d="M414.81,634.5v4.6" stroke="#1a1a1a" stroke-width="1"/>
<text transform="translate(414.8,664.8) scale(1,1.05)" font-size="27" text-anchor="middle">300</text>
<path d="M524.19,634.5v4.6" stroke="#1a1a1a" stroke-width="1"/>
<text transform="translate(524.2,664.8) scale(1,1.05)" font-size="27" text-anchor="middle">400</text>
<path d="M177.0,634.5h-4.5" stroke="#1a1a1a" stroke-width="1"/>
<text transform="translate(168.8,644.9) scale(1,1.05)" font-size="27" text-anchor="end">0.0</text>
<path d="M177.0,575.7h-4.5" stroke="#1a1a1a" stroke-width="1"/>
<text transform="translate(168.8,586.1) scale(1,1.05)" font-size="27" text-anchor="end">0.5</text>
<path d="M177.0,516.9h-4.5" stroke="#1a1a1a" stroke-width="1"/>
<text transform="translate(168.8,527.3) scale(1,1.05)" font-size="27" text-anchor="end">1.0</text>
<path d="M177.0,458.1h-4.5" stroke="#1a1a1a" stroke-width="1"/>
<text transform="translate(168.8,468.5) scale(1,1.05)" font-size="27" text-anchor="end">1.5</text>
<path d="M177.0,399.3h-4.5" stroke="#1a1a1a" stroke-width="1"/>
<text transform="translate(168.8,409.7) scale(1,1.05)" font-size="27" text-anchor="end">2.0</text>
<path d="M177.0,340.5h-4.5" stroke="#1a1a1a" stroke-width="1"/>
<text transform="translate(168.8,350.9) scale(1,1.05)" font-size="27" text-anchor="end">2.5</text>
<text x="382.8" y="696" font-size="27.15" text-anchor="middle">Temperature (K)</text>
<text transform="translate(113.5,464) rotate(-90)" font-size="26.8" text-anchor="middle"><tspan font-style="italic">M</tspan> (<tspan font-style="italic">μ</tspan><tspan font-style="italic" font-size="18.8" dy="4.2">B</tspan><tspan dy="-4.2">)</tspan></text>
<g opacity="0.92">
<circle cx="448.15" cy="313.75" r="4.95" fill="#f1872a"/><circle cx="448.15" cy="313.75" r="2.87" fill="#f39a4e"/>
<path d="M446.35,330.90h3.10v2.75h2.75v3.10h-2.75v2.75h-3.10v-2.75h-2.75v-3.10h2.75z" fill="#4db848" stroke="#4db848" stroke-width="1.7" stroke-linejoin="round"/>
<path d="M447.90,352.50L452.40,361.50L443.40,361.50z" fill="#3f8cc0" stroke="#3f8cc0" stroke-width="0.9" stroke-linejoin="round"/><path d="M447.90,355.80L449.60,359.60L446.20,359.60z" fill="#6aa6d0"/>
<rect x="444.20" y="374.70" width="7.4" height="7.4" fill="#a08ce6"/><rect x="446.70" y="377.20" width="2.4" height="2.4" fill="#c9bef4"/>
<path d="M447.90,396.20 L451.70,398.96 L450.25,403.44 L445.55,403.44 L444.10,398.96z" fill="#41369f" stroke="#41369f" stroke-width="0.5" stroke-linejoin="round"/><circle cx="447.90" cy="400.40" r="1.15" fill="#8d83da"/>
</g>
<text x="466.3" y="319.5" font-size="17.1">bulk<tspan dx="7.7">(</tspan><tspan font-style="italic">U</tspan><tspan dx="4.2">=</tspan><tspan dx="4.2">5)</tspan></text>
<text x="466.3" y="341.1" font-size="17.1">1ML-b<tspan dx="7.7">(</tspan><tspan font-style="italic">U</tspan><tspan dx="4.2">=</tspan><tspan dx="4.2">5)</tspan></text>
<text x="466.3" y="362.9" font-size="17.1">1ML<tspan dx="7.7">(</tspan><tspan font-style="italic">U</tspan><tspan dx="4.2">=</tspan><tspan dx="4.2">5)</tspan></text>
<text x="466.3" y="384.0" font-size="17.1">1ML<tspan dx="7.7">(</tspan><tspan font-style="italic">U</tspan><tspan dx="4.2">=</tspan><tspan dx="4.2">6)</tspan></text>
<text x="466.3" y="405.9" font-size="17.1">1ML<tspan dx="7.7">(</tspan><tspan font-style="italic">U</tspan><tspan dx="4.2">=</tspan><tspan dx="4.2">7)</tspan></text>
<text x="72.5" y="296.6" font-family="'Liberation Sans',sans-serif" font-weight="bold" font-size="24">b</text>
</g>
</svg></body></html>
